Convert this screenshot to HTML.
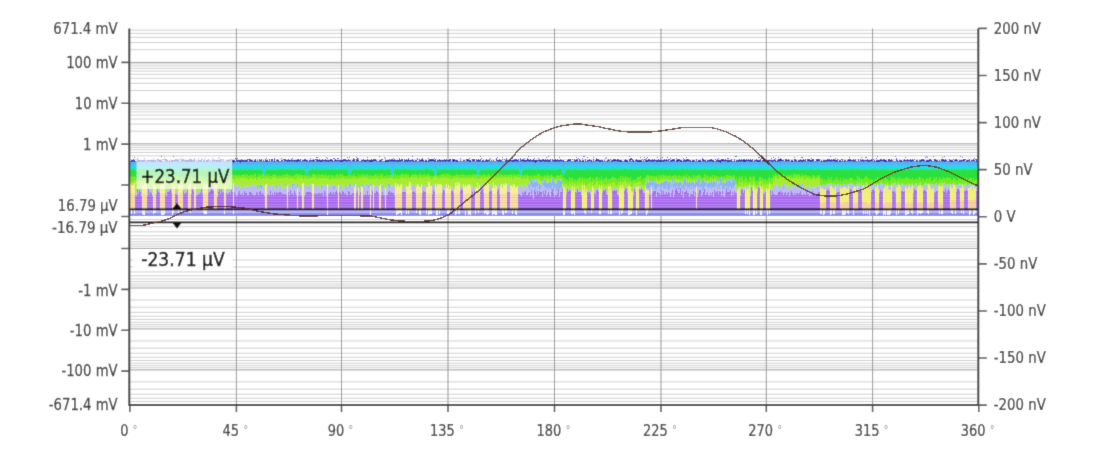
<!DOCTYPE html>
<html><head><meta charset="utf-8"><style>html,body{margin:0;padding:0;background:#fff;width:1117px;height:460px;overflow:hidden}svg{display:block}</style></head><body><svg width="1117" height="460" viewBox="0 0 1117 460" font-family="DejaVu Sans Condensed, DejaVu Sans, Liberation Sans, sans-serif" font-stretch="condensed"><defs><filter id="jb" x="0" y="0" width="1" height="1"><feConvolveMatrix order="3" kernelMatrix="0.0144 0.0912 0.0144 0.0912 0.5776 0.0912 0.0144 0.0912 0.0144" preserveAlpha="true" edgeMode="duplicate"/></filter></defs><g filter="url(#jb)"><rect width="1117" height="460" fill="#fff"/><path d="M130 49.69H977M130 42.49H977M130 37.38H977M130 33.41H977M130 30.17H977M130 90.59H977M130 83.39H977M130 78.28H977M130 74.31H977M130 71.07H977M130 68.34H977M130 65.96H977M130 63.87H977M130 131.21H977M130 124.08H977M130 119.02H977M130 115.09H977M130 111.88H977M130 109.17H977M130 106.82H977M130 104.75H977M130 172.20H977M130 164.94H977M130 159.80H977M130 155.80H977M130 152.54H977M130 149.78H977M130 147.39H977M130 145.29H977M130 213.19H977M130 205.99H977M130 200.88H977M130 196.91H977M130 193.67H977M130 190.94H977M130 188.56H977M130 186.47H977M130 260.02H977M130 266.99H977M130 271.94H977M130 275.78H977M130 278.91H977M130 281.57H977M130 283.86H977M130 285.89H977M130 300.01H977M130 307.21H977M130 312.32H977M130 316.29H977M130 319.53H977M130 322.26H977M130 324.64H977M130 326.73H977M130 340.94H977M130 348.16H977M130 353.28H977M130 357.26H977M130 360.50H977M130 363.25H977M130 365.63H977M130 367.72H977M130 381.91H977M130 389.11H977M130 394.22H977M130 398.19H977M130 401.43H977M130 219.51H977M130 226.71H977M130 231.82H977M130 235.79H977M130 239.03H977M130 241.76H977M130 244.14H977M130 246.23H977" stroke="#d0d0d0" stroke-width="1" fill="none"/><path d="M130 62.40H977M130 103.30H977M130 143.80H977M130 185.00H977M130 248.40H977M130 288.00H977M130 328.90H977M130 369.90H977" stroke="#a2a2a2" stroke-width="1" fill="none"/><path d="M236.40 28.4V405.1M341.50 28.4V405.1M448.00 28.4V405.1M554.50 28.4V405.1M661.00 28.4V405.1M766.30 28.4V405.1M872.60 28.4V405.1" stroke="#959595" stroke-width="1" fill="none"/><defs><pattern id="stp" patternUnits="userSpaceOnUse" x="0" y="193" width="8" height="2.5"><rect width="8" height="2.5" fill="#f8e6a4"/><rect y="1.4" width="8" height="1.1" fill="#f2c48c"/></pattern></defs>
<g shape-rendering="crispEdges">
<path d="M130 216.3V160.5H131V161H132V160.5H133H134V161H135V160.5H136H137H138H139V161H140V160.5H141H142V161H143V160.5H144H145H146H147V161H148V160.5H149H150H151H152H153H154H155V161H156V160.5H157H158H159H160H161H162H163H164H165V161H166H167V160.5H168H169H170H171V161H172V160.5H173H174H175H176H177V161H178H179H180V160.5H181H182V161H183H184V160.5H185H186H187H188H189H190H191H192H193V161H194V160.5H195H196V161H197H198V160.5H199H200H201H202V161H203V160.5H204H205V161H206V160.5H207H208H209V161H210V160.5H211H212H213H214H215H216H217H218V161H219V160.5H220V161H221V160.5H222H223H224H225H226H227H228H229H230H231H232H233V161H234H235V160.5H236H237H238H239H240H241V161H242V160.5H243H244H245H246V161H247H248V160.5H249H250H251H252H253H254H255V161H256H257V160.5H258V161H259V160.5H260H261H262V161H263V160.5H264H265V161H266V160.5H267V161H268V160.5H269H270V161H271V160.5H272H273H274H275H276H277V161H278V160.5H279H280H281V161H282V160.5H283H284V161H285V160.5H286H287H288H289V161H290V160.5H291H292H293H294V161H295V160.5H296H297H298H299V161H300V160.5H301H302V161H303H304V160.5H305H306H307H308H309H310H311H312H313H314H315H316H317V161H318V160.5H319V161H320H321V160.5H322H323H324H325V161H326H327V160.5H328H329H330H331V161H332H333H334V160.5H335V161H336H337H338V160.5H339H340H341H342V161H343H344V160.5H345V161H346H347V160.5H348H349V161H350V160.5H351H352V161H353V160.5H354V161H355V160.5H356H357H358V161H359V160.5H360H361H362H363H364H365H366V161H367V160.5H368V161H369V160.5H370H371V161H372V160.5H373H374V161H375V160.5H376H377H378V161H379H380V160.5H381H382H383H384H385H386H387H388H389H390V161H391V160.5H392H393H394H395V161H396V160.5H397V161H398V160.5H399H400H401H402V161H403V160.5H404V161H405V160.5H406H407H408H409H410H411V161H412V160.5H413H414H415V161H416V160.5H417H418H419H420H421H422H423H424H425H426H427V161H428H429V160.5H430H431H432H433H434V161H435V160.5H436V161H437V160.5H438H439V161H440H441V160.5H442H443H444H445V161H446V160.5H447H448H449H450H451H452V161H453H454V160.5H455H456H457V161H458H459H460V160.5H461V161H462V160.5H463H464H465H466H467V161H468V160.5H469H470H471V161H472H473V160.5H474H475H476H477H478H479V161H480V160.5H481H482H483H484H485H486V161H487H488V160.5H489H490V161H491V160.5H492V161H493H494H495H496V160.5H497H498H499H500V161H501V160.5H502H503H504H505V161H506V160.5H507V161H508V160.5H509H510V161H511V160.5H512H513H514H515H516H517H518H519H520H521H522H523H524H525H526H527H528H529H530V161H531V160.5H532H533H534H535V161H536V160.5H537H538H539H540H541H542H543H544H545H546H547H548H549H550H551V161H552H553V160.5H554V161H555H556V160.5H557H558H559H560H561H562H563V161H564V160.5H565H566V161H567H568V160.5H569H570V161H571V160.5H572V161H573H574H575V160.5H576V161H577V160.5H578H579V161H580V160.5H581H582V161H583V160.5H584H585H586H587V161H588H589V160.5H590H591H592H593H594V161H595V160.5H596H597H598H599H600V161H601V160.5H602H603H604H605H606V161H607V160.5H608H609H610H611V161H612V160.5H613H614V161H615V160.5H616V161H617V160.5H618H619V161H620V160.5H621H622H623H624H625H626V161H627V160.5H628V161H629V160.5H630H631V161H632V160.5H633H634H635H636H637V161H638V160.5H639V161H640V160.5H641H642H643H644V161H645V160.5H646H647V161H648V160.5H649V161H650V160.5H651H652H653H654H655H656V161H657V160.5H658H659H660V161H661H662V160.5H663H664V161H665H666V160.5H667H668V161H669V160.5H670H671V161H672V160.5H673V161H674V160.5H675V161H676H677V160.5H678H679H680H681H682H683H684V161H685H686V160.5H687H688V161H689H690V160.5H691H692H693H694H695H696V161H697H698V160.5H699V161H700V160.5H701H702H703V161H704H705V160.5H706H707H708H709H710H711H712H713V161H714V160.5H715H716H717H718H719H720H721H722H723H724H725V161H726H727V160.5H728V161H729H730H731V160.5H732V161H733V160.5H734H735H736V161H737V160.5H738V161H739V160.5H740H741H742V161H743H744H745H746V160.5H747H748V161H749V160.5H750H751V161H752V160.5H753H754V161H755V160.5H756H757H758V161H759H760V160.5H761H762H763H764H765H766H767H768H769H770H771V161H772V160.5H773H774H775H776H777H778H779H780H781V161H782V160.5H783V161H784V160.5H785H786H787H788H789H790H791H792H793H794H795H796H797V161H798V160.5H799H800H801H802H803H804H805H806V161H807V160.5H808H809H810V161H811V160.5H812H813H814H815H816H817V161H818H819V160.5H820V161H821V160.5H822V161H823H824V160.5H825H826H827V161H828V160.5H829H830H831V161H832H833V160.5H834H835V161H836V160.5H837H838V161H839V160.5H840H841V161H842V160.5H843H844H845H846H847V161H848V160.5H849H850V161H851V160.5H852H853H854V161H855V160.5H856H857H858H859H860H861V161H862V160.5H863V161H864H865H866V160.5H867V161H868V160.5H869H870H871H872H873H874H875H876H877H878H879V161H880V160.5H881H882H883H884H885H886H887H888H889H890H891H892V161H893V160.5H894V161H895H896V160.5H897V161H898V160.5H899H900H901H902H903H904H905H906H907H908H909H910H911H912H913H914H915V161H916V160.5H917H918H919V161H920V160.5H921H922H923H924H925H926H927H928H929H930H931V161H932V160.5H933H934H935H936H937V161H938H939V160.5H940V161H941V160.5H942H943H944H945H946H947V161H948H949H950V160.5H951H952V161H953V160.5H954H955H956H957H958H959H960H961V161H962H963H964V160.5H965H966H967H968V161H969V160.5H970V161H971V160.5H972H973V161H974V160.5H975H976H977H978V216.3Z" fill="#4a8cf0"/>
<path d="M130 216.3V162H131H132H133V161.5H134H135H136H137H138V162H139H140H141H142V161.5H143H144V162H145V161.5H146V162H147V161.5H148H149V162H150H151V161.5H152V162H153V161.5H154H155V162H156V161.5H157V161H158V161.5H159V161H160V162H161V161.5H162V161H163V161.5H164H165H166V161H167V162H168V161.5H169H170V162H171V161H172V161.5H173V162H174V161.5H175H176V161H177V161.5H178V162H179V161.5H180H181H182H183V162H184V161H185V161.5H186H187H188H189H190V161H191H192V161.5H193V162H194V161.5H195V162H196V161H197V162H198H199V161.5H200H201H202V162H203H204V161.5H205H206H207H208H209V162H210V161.5H211H212H213V162H214V161H215V161.5H216V162H217H218H219V161.5H220H221V162H222V161.5H223V162H224V161H225V162H226V161H227V161.5H228H229V161H230V161.5H231V162H232V161.5H233V162H234V161H235V162H236H237V161.5H238H239H240H241H242H243V162H244H245H246H247H248V161.5H249H250V162H251V161.5H252H253H254V161H255H256V161.5H257V162H258V161H259V162H260V161.5H261H262V162H263V161.5H264H265H266H267H268V162H269H270V161.5H271H272V162H273V161.5H274V161H275V161.5H276V161H277V161.5H278V162H279V161.5H280H281V162H282H283H284H285V161H286V161.5H287V162H288V161.5H289V162H290V161.5H291H292V162H293V161.5H294H295H296H297V161H298V161.5H299V162H300H301V161.5H302V162H303H304V161.5H305V161H306H307V161.5H308H309H310H311H312V162H313H314V161H315V161.5H316V162H317H318V161H319V162H320H321V161.5H322V162H323V161.5H324H325V162H326H327V161.5H328V161H329V162H330H331V161.5H332V162H333H334V161.5H335H336H337H338V162H339H340V161.5H341V161H342V161.5H343H344V161H345H346V161.5H347V162H348V161H349V162H350H351V161.5H352V162H353V161.5H354H355H356H357H358V162H359V161.5H360H361V162H362V161.5H363V161H364V162H365V161.5H366V162H367H368H369H370V161.5H371H372V161H373H374H375H376V162H377H378V161.5H379H380H381H382V162H383V161.5H384H385H386V161H387V161.5H388V161H389H390V162H391H392V161.5H393V162H394V161.5H395V162H396H397V161.5H398V162H399H400H401V161H402V162H403V161.5H404H405V161H406V161.5H407V161H408V161.5H409V162H410H411V161H412V161.5H413V162H414V161.5H415H416H417H418H419V162H420V161.5H421V162H422V161.5H423H424H425V161H426V162H427V161.5H428V162H429V161.5H430H431H432V161H433V161.5H434V162H435V161.5H436V162H437V161.5H438H439H440V162H441V161H442V161.5H443H444H445V162H446H447V161H448V162H449V161.5H450H451H452H453V162H454V161.5H455H456H457V162H458V161.5H459V161H460V161.5H461H462V162H463V161.5H464V162H465H466V161H467V161.5H468V162H469V161.5H470V161H471V161.5H472V162H473H474H475V161.5H476H477V161H478V162H479V161.5H480H481V162H482V161H483V162H484H485H486V161.5H487V161H488V162H489H490V161.5H491H492V162H493V161.5H494V162H495H496V161H497V161.5H498V162H499H500V161H501V162H502V161.5H503H504V161H505V161.5H506H507H508V161H509V161.5H510V162H511V161.5H512V161H513V161.5H514H515H516H517V162H518H519V161.5H520V162H521V161.5H522V162H523H524V161.5H525V162H526V161.5H527V162H528V161.5H529H530H531H532V162H533V161.5H534V161H535V162H536V161.5H537V162H538V161H539V161.5H540V162H541H542V161H543V162H544H545V161.5H546V162H547V161.5H548H549H550H551V161H552V161.5H553H554V162H555H556H557H558V161.5H559H560H561H562H563H564H565V162H566V161.5H567V162H568V161.5H569V162H570V161.5H571H572V162H573V161.5H574H575V162H576V161.5H577V162H578H579H580H581H582H583V161.5H584V161H585V162H586H587H588V161.5H589V161H590V161.5H591V161H592V162H593V161.5H594V162H595V161.5H596V162H597V161H598V161.5H599H600V161H601V162H602V161.5H603H604H605H606V162H607V161.5H608V161H609V162H610V161.5H611V162H612H613V161.5H614H615H616H617H618H619V162H620H621H622H623V161.5H624V162H625H626V161H627H628H629V161.5H630H631V162H632H633H634H635V161.5H636H637V161H638V161.5H639V162H640V161H641V161.5H642V161H643V161.5H644V162H645V161.5H646V162H647V161H648V162H649H650H651V161H652V161.5H653H654H655V161H656V162H657V161H658V162H659V161.5H660V161H661V161.5H662H663H664H665V162H666H667V161H668V162H669V161.5H670H671V161H672V161.5H673V162H674V161.5H675V161H676V161.5H677V162H678H679V161H680V162H681H682V161.5H683H684V162H685V161.5H686H687V162H688H689V161.5H690H691H692V162H693V161.5H694H695V162H696V161.5H697H698H699H700H701V162H702H703V161.5H704V162H705H706V161.5H707H708H709V162H710V161.5H711V162H712H713V161.5H714H715V162H716H717H718V161.5H719V162H720H721H722H723V161.5H724V162H725H726H727V161.5H728H729V162H730V161.5H731H732H733H734H735H736H737H738V162H739V161.5H740V162H741V161.5H742V162H743V161H744V162H745H746H747V161H748V162H749H750V161.5H751H752H753V162H754V161.5H755H756H757V161H758V161.5H759V162H760H761V161.5H762H763H764H765H766V161H767H768V161.5H769V162H770V161.5H771H772H773H774V161H775V161.5H776V162H777V161.5H778H779V162H780H781V161H782V161.5H783V161H784V161.5H785H786V162H787V161.5H788H789V161H790V161.5H791H792H793V162H794V161.5H795V162H796V161.5H797V161H798V161.5H799V162H800V161.5H801V162H802V161.5H803H804V162H805V161.5H806V162H807H808V161.5H809H810V162H811V161.5H812H813H814V162H815V161.5H816H817V162H818V161H819V162H820H821H822V161.5H823V161H824H825V162H826H827V161.5H828V162H829V161.5H830V161H831V161.5H832H833H834H835V162H836H837V161.5H838V162H839H840V161H841V161.5H842H843V162H844V161.5H845H846H847V162H848V161.5H849H850V162H851H852H853V161.5H854V162H855V161.5H856H857V162H858V161.5H859H860H861V162H862V161.5H863V162H864V161H865V162H866H867H868V161.5H869V162H870V161.5H871H872V162H873H874V161.5H875H876H877H878V162H879V161H880V161.5H881V161H882V161.5H883V162H884V161.5H885V162H886V161H887V161.5H888V162H889H890H891V161.5H892V162H893H894H895V161.5H896V161H897H898V162H899H900H901V161H902V162H903V161.5H904H905H906V162H907H908V161.5H909V162H910V161.5H911H912V162H913V161.5H914H915V161H916V162H917V161.5H918V162H919V161.5H920H921V162H922V161H923V161.5H924V162H925H926V161.5H927H928V162H929V161.5H930V161H931V161.5H932V161H933V161.5H934H935V162H936V161.5H937H938H939V162H940V161.5H941V162H942H943H944H945H946H947V161.5H948H949H950H951H952V162H953H954V161.5H955V161H956V162H957V161H958V162H959V161H960V162H961H962V161H963V162H964V161H965V162H966V161.5H967H968H969H970H971V162H972H973V161H974V161.5H975V162H976V161.5H977H978V216.3Z" fill="#56b2f4"/>
<path d="M130 216.3V164.5H131H132V165H133V164.5H134V165H135V164.5H136V165H137V164.5H138V165H139V164.5H140V164H141V164.5H142V165H143H144H145V164.5H146H147H148V164H149V164.5H150V164H151V165H152V164.5H153V165.5H154V164.5H155V165H156V164.5H157H158H159V165H160V164.5H161H162V165.5H163V164.5H164V165H165V164H166V164.5H167V165H168H169V164.5H170H171V165.5H172V164.5H173V165H174H175V165.5H176V164H177V164.5H178V165H179V164.5H180V165H181V165.5H182V165H183V164.5H184V165H185H186V164.5H187H188V165.5H189V165H190V164.5H191V165.5H192V164.5H193V164H194V165H195H196H197V164.5H198H199H200V165H201V164.5H202H203V165H204V164.5H205V165H206V164.5H207H208V165H209V164.5H210H211V165H212V164.5H213V165H214H215V164.5H216V164H217V164.5H218V165H219V164.5H220V165H221H222V164.5H223V165.5H224H225V164.5H226V165H227V164.5H228H229H230V165.5H231V164.5H232V165H233V164.5H234V165H235V164.5H236V165.5H237V165H238H239H240H241H242H243V164H244V165.5H245H246V164.5H247V165H248V164.5H249H250V165H251H252V164.5H253V165H254H255H256H257V165.5H258V164H259H260V165.5H261V164.5H262V165H263V164.5H264V165H265H266H267V164.5H268V165H269H270V164.5H271H272H273V164H274V164.5H275V165H276H277V164.5H278V165H279V164.5H280H281V164H282V165.5H283V165H284V164.5H285V165.5H286V164.5H287V165H288V164.5H289H290V165.5H291V164.5H292V165H293V164.5H294H295H296V165H297V164.5H298H299H300H301V165H302H303V164.5H304V165H305V164.5H306V165H307V165.5H308H309V164.5H310H311V165H312V164.5H313V165.5H314V164.5H315V165H316H317H318H319V164.5H320H321V165H322H323V164.5H324V165H325V164.5H326V165H327V164.5H328H329V165H330V164.5H331H332V165.5H333V164.5H334H335V165.5H336V164.5H337H338V165H339V164.5H340V165H341H342V165.5H343V164.5H344H345V165H346H347H348H349V164H350V165H351V165.5H352H353V164.5H354H355H356V165H357H358H359V164.5H360H361V165H362H363V164.5H364H365V165.5H366V165H367H368V164.5H369H370H371H372H373V165H374V164.5H375V165H376V164.5H377V165H378H379H380V164.5H381V165H382H383V164.5H384H385V165H386H387H388V164.5H389H390V165H391H392V165.5H393V165H394V165.5H395V165H396H397V164.5H398H399V165H400H401H402V164.5H403H404V165H405H406V165.5H407V165H408V164.5H409H410V165H411H412H413H414H415V164.5H416H417V164H418V165H419V164.5H420V165H421V165.5H422V164.5H423H424V165H425V165.5H426V165H427H428V164H429V164.5H430V165.5H431V164.5H432H433H434H435H436V165H437H438H439H440V165.5H441V164.5H442H443H444H445V165H446V165.5H447V164.5H448V165H449H450H451V165.5H452V164.5H453V165H454V164.5H455H456V165H457V164.5H458V165H459V164.5H460V165H461V164.5H462H463H464V165H465V165.5H466V165H467V164.5H468V165H469H470V164.5H471V165H472H473H474V164.5H475V165H476H477V165.5H478V165H479V164.5H480H481V165H482H483H484H485H486H487V164.5H488H489V165H490V164.5H491V165H492H493V164.5H494H495V165H496V164H497V164.5H498V165H499H500V165.5H501V164.5H502H503V165H504V164.5H505V165.5H506V164.5H507V165H508V164.5H509V165.5H510V165H511H512V164.5H513V164H514V165H515V164.5H516H517V164H518V165H519V164.5H520V165H521H522H523H524V164.5H525V165H526H527V164.5H528V164H529V164.5H530V165.5H531V165H532H533V165.5H534H535H536V165H537V164.5H538H539H540V165H541V164.5H542H543H544H545V165H546V164.5H547V165H548H549H550V164.5H551H552H553V165H554V164.5H555H556V165H557V164.5H558V165H559H560V164.5H561V165H562V164.5H563V165H564H565H566H567V165.5H568V165H569V164.5H570V164H571V164.5H572V165H573V164.5H574V165H575H576V164.5H577V165H578V164.5H579V165H580V164.5H581H582V165H583V164.5H584H585V165H586H587H588V164.5H589H590V165.5H591V164.5H592V165H593H594V164.5H595H596V165H597H598V164.5H599V165H600H601V164.5H602V165H603V164.5H604H605H606H607V164H608V165H609V164.5H610H611V164H612V165H613V164.5H614V165H615V164.5H616V165H617H618V164H619V165H620H621V165.5H622V164.5H623V165H624V164.5H625H626H627V165H628V165.5H629V165H630H631V164H632V164.5H633V165H634V164.5H635V165.5H636V164.5H637H638V165H639V164.5H640H641V165H642V165.5H643V164.5H644V165H645H646V164.5H647V165H648H649H650V164H651H652V164.5H653V165H654H655V164.5H656V165H657V165.5H658H659V164.5H660H661V165H662H663V164.5H664V165H665H666V164.5H667V165H668H669H670H671H672V164.5H673H674H675V165H676V164H677V165H678V164.5H679H680V165H681H682V164.5H683H684H685V165H686H687V164.5H688H689H690H691H692V165H693H694H695H696V164.5H697V164H698V165H699V164.5H700H701V165H702H703H704H705H706V164.5H707V165H708V164.5H709V165H710H711H712V164.5H713V165H714H715V164.5H716V165H717H718V164.5H719V165H720H721H722H723H724H725H726H727V164.5H728H729V164H730V164.5H731V165H732H733V165.5H734V165H735V164.5H736V165H737V165.5H738V164.5H739H740V165.5H741V164.5H742H743V165H744H745H746H747V164.5H748V165.5H749V165H750V165.5H751H752V164.5H753H754V165H755V164H756V165H757H758V164.5H759V165.5H760V165H761V164.5H762V165.5H763V165H764V164H765V164.5H766V165H767H768V164.5H769V165H770V164.5H771V165H772H773V164.5H774H775V165H776V164.5H777H778V165H779V164.5H780V165.5H781V164.5H782H783H784V165.5H785V164.5H786V165H787V164.5H788V165.5H789V165H790H791H792H793V164.5H794V165H795H796H797H798V164.5H799H800H801V165H802V164.5H803V165.5H804V165H805H806V164.5H807H808H809V164H810V165H811V164.5H812V165H813H814V165.5H815V164.5H816H817V165.5H818V165H819H820V164.5H821V165H822H823H824H825V164.5H826H827H828V165H829V164.5H830V165.5H831V165H832V164.5H833V165H834V164.5H835H836V165H837H838V164.5H839V165H840H841H842V164H843V164.5H844H845H846V165H847H848V164H849V164.5H850V165H851H852V165.5H853V164.5H854H855H856H857V165H858H859V164.5H860H861V165H862V164.5H863H864H865H866V165H867H868V164.5H869V165H870H871V164.5H872H873V165.5H874V164.5H875V165H876V165.5H877H878V165H879V164.5H880V165.5H881H882V165H883V164.5H884V164H885V165H886V164.5H887V165H888H889H890H891V164.5H892V165.5H893V165H894H895V164.5H896V165H897H898V164.5H899V165H900V164.5H901V165H902H903H904V164.5H905H906H907V165H908V165.5H909V164.5H910V165H911V164.5H912H913H914V165H915V164H916V164.5H917V165H918V164.5H919V165H920V164.5H921H922H923H924V165H925H926V164.5H927H928V165H929H930H931V164.5H932H933H934V165H935V164.5H936H937V165H938V164.5H939V165H940V164.5H941V165H942V164.5H943V165H944H945V164.5H946V165.5H947V164.5H948V165H949H950V165.5H951V164.5H952V165H953H954V165.5H955V165H956V164.5H957V165H958V164.5H959H960V165H961H962V164.5H963H964H965V165H966H967V164.5H968V165.5H969H970V165H971H972V164.5H973V165.5H974H975V165H976V164.5H977V165H978V216.3Z" fill="#2ad4ec"/>
<path d="M130 216.3V167H131V167.5H132H133H134H135V167H136V167.5H137V168H138V167.5H139V167H140V167.5H141V166.5H142V167H143V167.5H144H145V166.5H146V167H147V167.5H148V167H149V167.5H150H151H152H153H154H155H156V167H157H158H159V168H160V167H161H162V168H163V167H164H165H166V167.5H167H168V167H169V167.5H170H171V167H172H173H174H175V167.5H176V167H177H178H179V167.5H180V167H181V167.5H182V167H183V167.5H184V166.5H185V167H186V166.5H187V167H188H189H190H191V168H192H193V167.5H194V167H195V167.5H196V167H197V168H198V167.5H199H200V168H201V167.5H202V167H203V167.5H204V167H205V168H206V167H207V167.5H208V167H209H210V167.5H211V167H212V167.5H213V166.5H214V167H215V168H216V167.5H217V167H218V167.5H219V167H220H221V168H222V166.5H223V168H224V167.5H225H226V167H227H228H229V167.5H230V168H231H232V167.5H233V167H234V167.5H235V168H236V167H237H238V167.5H239H240H241H242H243V167H244V167.5H245V167H246V167.5H247V167H248H249H250H251H252V168H253V167H254V167.5H255H256H257V167H258H259V167.5H260V167H261V167.5H262H263H264V168H265V166.5H266V167H267V167.5H268V168H269V167H270H271V167.5H272H273H274H275H276V167H277V167.5H278V166.5H279V167H280H281H282V167.5H283V168H284V167.5H285H286H287V167H288V166.5H289V167.5H290V168H291V167.5H292H293V167H294H295H296H297V167.5H298H299V167H300H301V167.5H302V168H303V167H304V167.5H305V168H306V167H307V167.5H308V167H309H310H311H312V167.5H313H314V167H315V167.5H316V167H317V168H318V167H319V167.5H320V166.5H321V167H322H323H324H325H326V167.5H327V167H328V167.5H329H330H331V167H332V168H333V167H334H335H336H337H338H339V167.5H340V167H341H342V167.5H343V167H344V167.5H345V168H346V167H347H348V167.5H349V167H350V167.5H351H352V167H353V167.5H354V167H355H356V167.5H357V167H358V167.5H359V167H360V167.5H361V168H362V167H363V168H364V167H365V167.5H366V168H367V167.5H368V167H369V167.5H370H371V166.5H372V167H373V167.5H374V167H375V167.5H376V168H377V167H378V167.5H379V168H380V167H381H382V166.5H383V167.5H384H385H386H387H388H389V167H390H391V167.5H392H393V167H394V167.5H395H396H397V167H398H399V168H400V167H401H402V167.5H403V167H404H405V168H406V167H407H408H409V166.5H410V167H411H412H413V168H414V167H415V167.5H416H417V167H418H419V167.5H420V167H421H422V167.5H423V167H424V167.5H425H426H427V167H428H429H430H431H432V168H433V167.5H434V167H435H436V167.5H437H438V168H439V167.5H440H441V167H442H443V167.5H444V167H445V168H446V167.5H447V167H448H449V167.5H450V167H451H452V168H453V167H454H455H456H457H458V168H459H460V167H461H462H463H464V167.5H465H466V168H467H468V167.5H469V167H470V166.5H471V167.5H472V167H473H474H475H476H477V167.5H478V167H479V167.5H480V168H481V167.5H482V167H483V167.5H484H485V167H486H487H488H489V166.5H490V167.5H491V167H492V167.5H493V167H494H495V167.5H496H497H498V167H499H500H501H502V167.5H503H504H505V166.5H506V167H507V167.5H508H509V168H510V167H511V167.5H512V167H513H514V167.5H515V167H516V167.5H517H518V167H519V167.5H520V167H521V167.5H522V168H523V167.5H524V168H525V167H526V167.5H527H528V167H529V168H530V167.5H531V168H532V167.5H533H534V167H535V167.5H536H537V167H538H539V167.5H540H541H542V168H543V167H544V167.5H545H546H547H548V167H549V167.5H550V167H551V167.5H552H553H554V168H555V167H556V167.5H557H558V167H559V167.5H560V167H561H562H563V166.5H564V167.5H565V168H566V167H567V167.5H568V166.5H569V167H570V167.5H571H572H573H574H575V167H576V168H577V167H578H579V168H580V167.5H581H582H583H584V167H585H586V168H587H588V167H589V167.5H590V168H591V167H592H593H594V167.5H595V167H596H597V167.5H598V167H599H600H601V167.5H602V168H603V167H604H605V168H606V167H607V167.5H608V167H609V168H610V167.5H611V167H612V167.5H613H614H615H616H617V167H618H619H620H621H622V167.5H623H624V167H625V168H626H627V167H628V167.5H629V166.5H630V168H631V167.5H632H633H634V168H635V167.5H636V167H637H638V167.5H639H640V168H641V167H642V167.5H643V168H644V167H645V168H646V167.5H647V167H648V167.5H649V167H650V167.5H651V167H652V167.5H653V166.5H654V167H655V167.5H656H657V167H658H659H660V167.5H661V167H662V167.5H663V168H664V167H665V167.5H666V167H667H668H669H670V167.5H671H672V168H673V167.5H674V168H675V167.5H676H677H678H679V167H680H681H682H683V168H684V167.5H685V168H686V167.5H687V167H688H689V167.5H690H691V167H692V167.5H693V166.5H694V167.5H695H696V168H697H698V167.5H699H700V167H701V167.5H702H703H704H705H706V167H707H708V168H709V167H710H711V167.5H712V167H713V168H714V167.5H715H716V168H717H718V166.5H719H720V167.5H721V166.5H722V167H723H724V167.5H725V167H726V168H727V166.5H728V167.5H729V167H730H731H732H733H734H735H736V167.5H737H738V167H739V168H740V167H741V167.5H742V167H743V167.5H744H745V166.5H746V167H747V167.5H748H749V168H750V167H751H752V167.5H753H754H755V168H756V167.5H757V166.5H758V167H759V167.5H760V167H761V167.5H762H763H764V167H765H766H767V167.5H768H769V167H770H771H772V167.5H773V167H774H775V168H776V167.5H777V167H778V167.5H779V167H780V168H781V167H782V167.5H783V166.5H784V167.5H785V167H786H787V166.5H788V168H789H790V167.5H791V167H792V167.5H793V166.5H794V167H795H796V167.5H797V167H798V167.5H799H800V167H801V167.5H802V167H803H804H805V167.5H806V166.5H807V167.5H808H809V167H810V167.5H811V167H812V168H813V167H814V167.5H815V167H816V168H817V167H818V168H819V167.5H820H821V168H822V167.5H823H824H825V167H826H827V167.5H828H829V167H830V168H831V167.5H832V168H833V167H834H835V167.5H836H837H838V167H839H840V167.5H841V167H842V167.5H843H844V168H845V167H846V166.5H847V167H848V166.5H849V167.5H850V167H851V167.5H852V168H853V167.5H854H855H856V166.5H857V167H858V168H859V167H860V167.5H861H862V167H863V167.5H864V168H865V167.5H866H867H868V167H869V167.5H870V167H871V167.5H872V167H873H874H875H876V168H877H878H879V167H880V167.5H881V167H882V167.5H883H884H885H886H887H888H889V167H890H891H892V167.5H893V168H894V167H895V167.5H896V167H897V167.5H898V168H899H900V167.5H901H902H903H904H905V168H906H907V167H908H909V167.5H910V168H911V167.5H912H913H914V167H915V167.5H916V167H917V167.5H918V166.5H919V167H920H921V167.5H922H923H924H925H926V166.5H927V167.5H928H929H930V167H931H932H933H934V167.5H935V168H936V167H937V167.5H938H939H940H941V168H942V167.5H943V167H944H945V167.5H946V167H947V167.5H948H949V167H950V167.5H951V167H952V167.5H953V166.5H954V167.5H955H956V167H957H958H959V167.5H960V167H961V167.5H962H963H964H965H966H967V168H968V167H969H970H971H972H973V167.5H974H975H976V167H977H978V216.3Z" fill="#22e2bc"/>
<path d="M130 216.3V169H131V169.5H132V169H133H134V169.5H135H136H137V169H138H139H140V168.5H141V169H142V169.5H143V168.5H144V169H145H146V168.5H147V169H148H149H150V169.5H151V168.5H152H153V169H154H155V168.5H156H157V169H158H159V169.5H160V169H161V168.5H162V169.5H163V168.5H164H165V169H166H167H168V169.5H169V168.5H170V169H171H172H173H174H175H176H177H178H179V169.5H180V169H181H182V169.5H183H184V169H185V168.5H186V169.5H187V168.5H188V169H189H190H191V168.5H192V169H193V169.5H194H195V169H196V168.5H197V169.5H198V168.5H199H200V169H201V169.5H202V169H203V169.5H204H205V169H206H207V168.5H208H209H210H211V169H212H213H214V169.5H215V168.5H216V169H217V169.5H218H219V168.5H220V169H221H222V169.5H223V168.5H224V169H225H226V169.5H227V169H228V169.5H229H230V169H231V169.5H232H233V169H234V169.5H235H236H237H238H239H240V169H241V169.5H242V170H243V169.5H244H245V169H246V170H247V169.5H248H249V169H250V170H251V169H252V170H253H254V169.5H255V170H256V169.5H257V170H258V169.5H259V169H260V170H261H262V169.5H263V170H264V169.5H265H266H267H268H269H270V170H271V169.5H272H273H274H275V170H276V169.5H277H278V169H279V169.5H280H281V169H282H283H284V169.5H285H286H287V169H288V169.5H289V169H290H291V169.5H292V170H293V169.5H294H295V170H296V169.5H297V170H298V169H299H300V169.5H301H302H303H304H305V170H306H307H308H309H310H311V169.5H312V169H313V169.5H314H315H316V169H317V169.5H318H319H320V170H321V169.5H322V169H323V169.5H324V170H325V169H326V170H327V169H328H329V169.5H330H331V169H332V169.5H333V169H334V169.5H335V169H336V169.5H337H338H339H340V169H341H342V170H343V169H344H345V169.5H346V169H347V169.5H348H349V170H350V169.5H351H352H353V170H354V169.5H355V169H356V170H357V169.5H358H359H360V169H361H362V169.5H363V169H364V169.5H365V170H366V169.5H367V170H368H369V169H370V169.5H371V170H372V169.5H373H374H375H376H377H378V169H379V170H380V169H381V169.5H382V169H383V170H384V169.5H385H386V170H387V169.5H388V169H389H390V169.5H391H392H393V169H394H395H396V170H397V169H398V169.5H399V170H400H401V169H402V169.5H403V169H404H405H406H407V169.5H408H409H410H411H412H413V170H414H415H416V169.5H417V170H418V169.5H419H420V170H421V169.5H422V170H423V169.5H424V170H425V169H426H427H428H429V170H430V169.5H431V170H432H433H434V169.5H435H436H437H438V169H439V170H440V169.5H441H442V169H443V169.5H444V169H445V169.5H446V169H447V169.5H448H449H450H451V169H452H453V169.5H454V169H455V169.5H456V170H457V169.5H458V169H459V170H460V169.5H461V169H462V170H463H464V169H465V170H466V169.5H467H468V169H469V169.5H470H471H472V169H473V169.5H474V170H475V169.5H476H477H478V170H479V169.5H480V170H481H482V169.5H483H484H485H486H487H488H489V169H490V169.5H491H492H493H494H495V170H496V169H497V169.5H498H499V169H500V170H501V169.5H502V170H503V169H504V170H505V169.5H506H507V170H508H509V169.5H510V169H511V169.5H512H513V169H514V169.5H515V169H516V170H517H518H519V169H520H521V169.5H522H523V170H524V169.5H525V169H526H527V169.5H528V170H529V169H530H531H532V169.5H533V170H534V169H535V170H536V169.5H537V169H538H539V169.5H540H541V169H542V169.5H543V169H544V170H545V169.5H546H547H548V170H549V169.5H550H551H552H553H554H555H556H557V170H558V169H559H560H561V170H562V169H563V169.5H564V169H565V170H566V169H567V169.5H568V169H569H570V170H571V169.5H572H573H574H575V169H576V169.5H577V170H578V169.5H579H580V170H581H582V169.5H583H584V170H585V169.5H586V170H587V169H588H589V169.5H590H591V170H592H593H594V169.5H595V169H596H597V170H598V169H599V170H600V169.5H601H602V170H603V169.5H604V170H605V169.5H606V169H607V170H608V169.5H609H610V170H611V169.5H612V169H613V170H614V169.5H615V169H616V170H617V169.5H618V170H619V169.5H620H621V169H622V169.5H623V169H624H625H626H627V169.5H628V170H629V169H630V169.5H631V169H632H633V170H634V169.5H635H636H637V170H638V169.5H639V170H640V169.5H641V170H642V169H643V170H644V169.5H645V170H646V169H647V169.5H648V170H649V169.5H650V170H651V169.5H652H653V170H654H655V169H656V169.5H657V170H658H659V169.5H660V169H661H662V169.5H663H664V170H665V169H666V170H667V169.5H668V169H669H670V169.5H671H672H673H674H675H676V169H677V169.5H678V170H679H680V169.5H681V169H682H683H684V169.5H685V170H686V169H687H688V169.5H689H690V169H691V170H692V169.5H693V170H694V169.5H695V169H696V170H697H698H699H700V169H701V169.5H702H703H704V169H705V170H706H707V169H708V169.5H709H710H711V169H712V169.5H713H714V169H715V169.5H716V169H717V170H718V169.5H719V170H720H721H722V169.5H723V169H724V169.5H725V170H726V169H727V169.5H728V170H729V169H730H731H732V170H733V169H734V170H735V169.5H736H737H738V170H739V169H740H741V169.5H742V169H743V169.5H744H745H746H747V169H748V170H749V169.5H750H751V169H752V169.5H753H754H755V170H756V169.5H757V169H758V170H759V169H760V170H761V169.5H762V170H763V169.5H764H765V170H766H767H768H769V169.5H770H771V170H772V169.5H773V169H774V169.5H775V169H776V169.5H777V170H778H779V169.5H780V169H781V169.5H782V169H783V169.5H784V170H785V169.5H786H787H788V169H789V169.5H790V170H791H792H793V169H794V170H795V169.5H796V170H797V169H798V169.5H799H800H801H802H803H804V169H805V169.5H806V170H807V169.5H808H809V170H810V169H811H812V169.5H813H814H815H816H817V169H818H819V169.5H820H821H822H823H824H825H826H827H828V170H829H830V169.5H831V170H832H833V169H834V170H835V169.5H836V169H837V169.5H838V169H839V169.5H840V170H841H842V169H843V170H844V169.5H845H846V169H847V169.5H848H849H850V170H851H852V169H853H854V169.5H855H856V169H857V169.5H858V169H859V169.5H860V170H861V169.5H862H863V170H864V169.5H865V169H866V169.5H867H868H869H870V170H871V169H872H873V169.5H874V169H875V170H876H877V169.5H878H879H880H881V169H882V169.5H883H884V170H885V169H886V169.5H887V170H888H889V169.5H890H891H892H893H894H895H896V169H897H898V170H899H900V169H901V170H902H903V169.5H904V169H905V169.5H906H907V169H908V169.5H909V169H910H911H912V169.5H913V170H914V169.5H915H916H917H918H919H920H921V169H922H923V169.5H924V169H925V169.5H926V170H927V169.5H928H929V170H930V169H931V169.5H932V169H933V170H934V169H935V169.5H936V169H937V170H938V169.5H939V170H940H941V169.5H942H943V169H944V170H945V169H946V170H947V169H948H949V169.5H950H951V169H952V169.5H953V169H954V170H955H956V169H957V170H958H959H960V169.5H961H962V169H963H964V169.5H965H966H967V170H968V169.5H969V169H970V170H971V169.5H972H973V169H974H975H976V170H977H978V216.3Z" fill="#2ce03e"/>
<path d="M130 216.3V175.5H131V177H132H133V176H134V176.5H135H136V177.5H137V175H138V177.5H139V177H140V177.5H141V178.5H142V177.5H143V175.5H144H145V178H146V178.5H147V177H148V175.5H149V177.5H150V177H151V176H152V174.5H153V177H154V176H155V178H156V175H157V176.5H158V178H159V177.5H160V175H161V177H162V177.5H163V175.5H164V176H165V176.5H166V178H167V176H168V177.5H169V177H170V177.5H171V177H172H173V176H174H175V175H176V176H177H178V175.5H179V176.5H180V178H181V176H182V176.5H183V177.5H184V176.5H185V175.5H186V176.5H187H188V176H189V177.5H190V176H191V175.5H192V178H193V176.5H194V178H195V177H196H197V176.5H198V177.5H199V175H200V176H201V176.5H202V176H203V177H204V177.5H205H206V176.5H207V175.5H208V176.5H209V177H210V176H211V175.5H212V178H213V176.5H214V176H215H216V175.5H217V178H218V176H219V177.5H220V176.5H221V178.5H222V176H223V178.5H224H225V176H226V177.5H227V175.5H228V178H229V176H230V175.5H231H232V174.5H233V174H234V175.5H235V174.5H236H237V175.5H238V175H239V174.5H240V175.5H241V174.5H242V175H243H244V174H245V176H246V174H247V174.5H248V175.5H249V176H250V175H251H252H253V176H254V174H255H256V176.5H257H258V174.5H259V173.5H260V175.5H261V175H262V173.5H263V175H264H265V175.5H266V174H267V175.5H268V174H269V175.5H270H271H272V175H273H274V174H275V174.5H276V175H277V176.5H278V175.5H279V174.5H280V175.5H281V176H282V174.5H283V175H284V174.5H285H286V173.5H287V174H288V175H289V176H290V175H291V175.5H292H293H294V175H295H296V174H297H298V174.5H299V174H300V175H301V174.5H302V175H303V176H304V175H305V176H306V174.5H307V175.5H308H309V174.5H310V176.5H311V175.5H312V173.5H313H314H315V174.5H316V175H317V176H318V174H319V175H320H321V174.5H322V174H323V175H324V176H325V173.5H326V175H327V176H328V175H329V174.5H330V176.5H331V174.5H332V175H333V176H334V176.5H335V175H336H337V173.5H338V175.5H339V174.5H340V173.5H341V174.5H342V173.5H343V175.5H344V176H345V175.5H346H347H348V175H349V176.5H350V175H351V175.5H352V175H353V175.5H354V174H355V176H356V175.5H357V176.5H358V174H359V176H360V175H361V175.5H362V174H363H364V175.5H365V174.5H366V175H367V174H368V176H369V175H370V176H371V174.5H372V175.5H373V176H374V174.5H375V174H376V175.5H377V174H378V176H379V175.5H380V174H381V174.5H382V174H383V176.5H384V175.5H385V176H386V174.5H387V175H388V176.5H389V174.5H390H391H392V174H393H394V175.5H395V174H396V176H397V174.5H398V175.5H399V174.5H400V175H401V173.5H402V174H403H404V174.5H405V174H406V173.5H407V174.5H408V174H409V176.5H410V175.5H411V174.5H412V175H413V174H414V174.5H415V174H416V174.5H417V175H418V176H419V174H420H421V175.5H422V175H423V174.5H424V174H425V175.5H426V175H427V174H428V174.5H429H430V176H431V175.5H432H433H434V175H435V174.5H436V175H437V175.5H438H439V175H440H441H442V174H443H444H445V176H446V174H447H448H449V175H450V175.5H451V174.5H452V176H453V175.5H454V174.5H455V176H456V173.5H457V174.5H458H459H460H461V175H462V174H463V174.5H464V175H465H466V175.5H467V174.5H468H469H470H471V176H472V174H473V175.5H474V173.5H475V174.5H476H477V174H478V176.5H479V174.5H480V175H481V175.5H482V175H483H484V173.5H485V174.5H486V176H487V174.5H488V173.5H489V174.5H490V176H491V175.5H492V174H493V176H494V173.5H495V176H496V175.5H497V174H498H499V175.5H500V173.5H501V175H502H503V176H504V175H505V174.5H506V175H507V174.5H508V175H509V174.5H510V175H511V173.5H512V176H513V174H514V175H515V174.5H516H517H518V173.5H519V174.5H520V175H521V174H522V175.5H523H524V175H525V174.5H526V175.5H527V174H528V175.5H529H530V176H531V174.5H532V177H533V176H534V175H535V175.5H536H537V174H538V173.5H539V175H540V176H541V176.5H542V175.5H543V177H544V175H545V176H546V175.5H547V174H548V176H549H550V174.5H551V175H552V176H553V177H554H555V177.5H556V175.5H557V175H558V175.5H559V176H560V174.5H561H562V177.5H563V176.5H564V177.5H565V179.5H566V179H567V179.5H568V180.5H569V177H570V179H571V177.5H572H573V181H574V178.5H575V179.5H576V180.5H577V178.5H578V179H579V176.5H580V178H581V179H582V177H583V179H584V177.5H585V179.5H586V178H587V179H588V178.5H589V176.5H590V177H591V181H592V178H593V179H594V180H595V177.5H596V177H597H598V179.5H599V178H600V180H601V177H602V180.5H603V178.5H604H605V178H606V176.5H607V179.5H608V179H609H610H611V178H612V176.5H613V177H614V178H615V177.5H616V178.5H617V180.5H618V177.5H619V179H620V176H621V178.5H622V176H623V177H624V177.5H625V175.5H626V178H627V177H628V177.5H629V178.5H630V176.5H631V180.5H632V181H633V178.5H634V180H635V179.5H636V179H637V176.5H638V177H639V176.5H640V176H641V180.5H642V178.5H643V178H644V178.5H645V176.5H646V175.5H647V175H648V174.5H649V175.5H650H651H652H653V177H654V175.5H655V176.5H656V175.5H657V177.5H658V174.5H659V176.5H660V175.5H661V175H662V176H663V174.5H664V176H665V174.5H666V175.5H667V176H668V175.5H669V174.5H670V175.5H671V176.5H672V175.5H673V176H674V174.5H675V175H676V175.5H677V177H678V175H679V175.5H680V177H681V176H682V177H683V174.5H684V176H685V176.5H686V174H687V177.5H688V176H689V175.5H690V176.5H691H692V177.5H693V174.5H694V176.5H695V176H696H697H698V175H699H700V176H701V177.5H702H703V176.5H704V174H705V176.5H706V175H707V176H708V176.5H709V178H710V175.5H711V176.5H712V175H713V177.5H714V174.5H715V176H716V175.5H717V176.5H718V176H719V177.5H720V177H721V175.5H722V177H723H724V175.5H725V177.5H726V174.5H727H728V175.5H729V175H730V176H731H732V177H733V175H734V176H735V179.5H736V177H737V181.5H738V179H739V175.5H740V177.5H741V177H742V176H743V180H744V178.5H745V175.5H746V178H747V179.5H748V180.5H749V177H750V176H751V177.5H752V178H753V176H754V177H755V179.5H756V182H757V180H758V181H759V176.5H760H761V178.5H762V178H763V179.5H764V178.5H765H766V180.5H767V180H768V177.5H769V177H770V179H771V178H772V178.5H773V175H774V175.5H775V173.5H776V175H777V176H778V174.5H779H780V173.5H781V174H782V175H783V174H784V175H785V176H786V175.5H787V174.5H788V176H789V175H790V176H791V175H792V176.5H793V173.5H794V174H795V174.5H796V174H797V174.5H798H799V173.5H800V176H801V175.5H802V173.5H803V176H804V174.5H805H806V175H807V175.5H808V176H809V175.5H810V176.5H811H812V176H813V174.5H814V175.5H815V177H816V176.5H817V175H818V175.5H819V175H820V178H821V180H822V178H823V181H824V178.5H825V181.5H826V179.5H827H828V177H829V179H830V179.5H831V176.5H832V180.5H833H834V178.5H835V180H836V176.5H837V180H838V179H839V180.5H840V177.5H841V180.5H842H843V178H844V179.5H845V179H846V178.5H847V180H848V179.5H849V177.5H850H851H852H853V180.5H854V180H855V179.5H856H857V176H858V179H859V176.5H860V178.5H861V179H862H863V179.5H864V178H865V177H866V176H867V179H868V178H869V179.5H870V180H871V179H872V179.5H873V180.5H874H875V179H876V180H877V176.5H878V177.5H879V179H880H881V178H882V178.5H883V181H884V178H885V177H886V179.5H887V178.5H888V181H889H890V180H891V176.5H892V177H893V179H894V176.5H895V179H896V181H897V177.5H898V178.5H899V177H900V179.5H901V178H902V178.5H903H904H905V178H906V177H907V178H908H909V178.5H910V180H911V178.5H912V177.5H913V180H914V179.5H915V179H916H917V179.5H918V177.5H919V176.5H920V177.5H921V181H922V177.5H923V178.5H924V180.5H925V179.5H926V178H927V178.5H928H929V178H930V177H931V180.5H932V181H933V178.5H934V177H935V178.5H936V177H937V181.5H938V179.5H939V177H940V179H941H942H943V176.5H944V178H945V179H946V178H947V176.5H948V177.5H949H950V178H951V180H952V179.5H953V178H954V177.5H955V179H956V180.5H957V179.5H958V177.5H959V179H960H961V179.5H962V177.5H963V179H964V178H965V180.5H966V177.5H967V180H968H969V177.5H970H971V179H972V181.5H973V178H974V179.5H975V180H976V178.5H977V180H978V216.3Z" fill="#74ea22"/>
<path d="M130 216.3V182H131V181.5H132H133H134V180H135V180.5H136V181H137H138V180.5H139V180H140V180.5H141V181.5H142V181H143H144V180.5H145V181H146V182H147H148H149V181H150H151V182H152V180H153V180.5H154V181.5H155H156V180.5H157H158V182H159H160V180.5H161H162V180H163V181H164V180.5H165H166V181.5H167V181H168V181.5H169V180.5H170V181.5H171V180H172V181H173V180.5H174V181.5H175V180.5H176V181.5H177V180.5H178V181H179V180.5H180V181.5H181V181H182V180.5H183V181H184H185H186H187V181.5H188V180.5H189V180H190V181H191V180.5H192V181.5H193V180.5H194V181H195H196V180.5H197V181.5H198V182H199V180.5H200V180H201V181H202V182H203V180H204V181.5H205V182H206V180.5H207V181.5H208V182H209V181.5H210V182H211V180.5H212V181H213V181.5H214V181H215V181.5H216H217V182H218V180.5H219V182H220H221V181.5H222V180.5H223V181.5H224V182H225V180.5H226V181H227V180.5H228V181.5H229V180H230V180.5H231V181H232V177.5H233V178.5H234H235V179.5H236V177H237V178.5H238V177.5H239V179H240V178H241V177.5H242H243V177H244V177.5H245V178.5H246V177.5H247V179H248V179.5H249V179H250V178H251H252V178.5H253V179H254V177.5H255H256V179.5H257H258V177.5H259V177H260V178.5H261V179.5H262V177.5H263H264V179H265V178H266V177.5H267H268H269V178.5H270H271V179H272V178H273V177H274V177.5H275V177H276V179H277H278V178H279V178.5H280V177.5H281V178.5H282V178H283V178.5H284V178H285V177.5H286V177H287V177.5H288V178H289V179H290V177.5H291V178H292V178.5H293V178H294V178.5H295V179.5H296V178.5H297V178H298V177H299V178.5H300V177.5H301V177H302V179H303V179.5H304V178H305V178.5H306V177.5H307V179H308V178.5H309V178H310V178.5H311V177.5H312H313V177H314V177.5H315H316V178.5H317V179H318V177.5H319V178H320V178.5H321V178H322V177.5H323V178.5H324V178H325V177.5H326H327V179H328H329V178.5H330V179.5H331H332V178H333V178.5H334V179H335H336H337V177.5H338V179.5H339V178.5H340V177.5H341V179H342V177H343V178H344V179H345V178.5H346H347V179H348V178.5H349H350V179H351V178.5H352V178H353V178.5H354V177H355V178.5H356H357V179H358V178H359V179H360V177.5H361V178.5H362V177H363H364V178H365V177H366V178H367V177.5H368V178.5H369V179H370V178.5H371V179H372V177.5H373V178.5H374H375V178H376H377H378V179H379V178.5H380H381V179H382V177H383V179H384V178H385V178.5H386V179H387V178H388V179H389V177.5H390H391H392V178H393V178.5H394V179H395V178.5H396V179H397V178.5H398H399V179H400V178H401V176.5H402V178H403V177.5H404V178H405V177.5H406V177H407V179H408V176.5H409V179H410V178H411V177H412V178H413V177H414V178H415V176.5H416V177H417V178.5H418H419V177.5H420V177H421V177.5H422V179H423V177.5H424V177H425V178H426V177H427H428H429H430V179H431H432V178.5H433V178H434V177H435H436H437V178H438V179H439V177.5H440H441V178H442H443V177H444H445V178.5H446V177H447V177.5H448V178H449V177.5H450V178.5H451H452H453V178H454V177H455V178.5H456V176.5H457V178H458H459V177.5H460V178.5H461V178H462H463H464V177.5H465V178H466V178.5H467V178H468V177.5H469V178H470V178.5H471V178H472V176.5H473V179H474V177H475V178.5H476V178H477V178.5H478V179H479V178.5H480V178H481H482V177.5H483V179H484V176.5H485V178H486V178.5H487V177H488V177.5H489V177H490V179H491V178H492V177H493V178.5H494V177H495V178.5H496V178H497H498H499H500V177H501V178.5H502V177H503V178H504V177H505V176.5H506V178H507V177.5H508V177H509V178H510V177.5H511V177H512V178.5H513H514V177H515H516H517V178H518V176.5H519V178H520V177.5H521V178.5H522H523V179H524V177.5H525V178.5H526V179H527V177H528V178.5H529V180.5H530V179.5H531V179H532V181H533V180H534V178.5H535H536H537H538V178H539V180H540V179.5H541V180.5H542V180H543V180.5H544V178H545V180.5H546V178.5H547V178H548V179H549V178.5H550H551V178H552V179H553V180.5H554V180H555H556V178H557V179H558V179.5H559V179H560V178.5H561V179H562V183.5H563V181.5H564V183.5H565V184H566V183H567V184.5H568V186H569V182.5H570V183H571V185H572V181.5H573V184.5H574V183H575V184H576V185.5H577V182H578V184.5H579V181.5H580V184.5H581V183H582V182H583V184.5H584V182.5H585V185.5H586V186H587V185H588V184H589V182.5H590V183H591V185.5H592V182H593V185.5H594V184.5H595V183.5H596V181.5H597V181H598V184.5H599V183.5H600V185.5H601V181H602V184.5H603V184H604V185H605V185.5H606V183.5H607V185H608V183.5H609V182.5H610H611V185H612V181.5H613V182.5H614V181.5H615V184.5H616V185.5H617V184.5H618V184H619V182H620V181.5H621V183.5H622V182H623H624V181H625H626V182.5H627H628V183.5H629V181.5H630V182.5H631V185.5H632V186H633V182.5H634V184H635V183H636V182.5H637H638V182H639V181.5H640H641V185H642V184.5H643V185H644V184.5H645V181.5H646V178.5H647V181H648V178.5H649V180.5H650H651H652V181H653H654V180.5H655V180H656V178H657V181H658V179.5H659V180.5H660V179H661V178.5H662V179.5H663V178H664V178.5H665V179.5H666V178.5H667H668H669V180H670V179.5H671V180H672V180.5H673H674V179H675V178.5H676V179H677V180H678V179H679V180H680V180.5H681V178.5H682V180H683V178.5H684V181H685H686V178H687V180.5H688V178.5H689V179H690H691V180H692V180.5H693V178.5H694V180H695V181H696V179H697V180.5H698V179H699V179.5H700V180H701V180.5H702H703H704V178.5H705V180.5H706V179.5H707V180.5H708V179.5H709V180.5H710V178H711V179.5H712V179H713V181H714V178H715V179.5H716V181H717V180H718V180.5H719H720V180H721V179H722V180.5H723V180H724V178.5H725V180.5H726V179H727H728V178.5H729V180H730V181H731V178.5H732V180.5H733V179H734V179.5H735V183.5H736V184H737V185.5H738H739V182H740V185.5H741V182H742V182.5H743V186H744V183.5H745V181.5H746V186H747V183.5H748V186H749V182.5H750V181.5H751V184.5H752V185H753V181H754V182.5H755V184.5H756V186H757V185H758V186H759V181.5H760V181H761V185.5H762V182H763V183.5H764V184.5H765V183.5H766V185H767V184H768V184.5H769V181.5H770V182.5H771V183.5H772H773V177.5H774V179.5H775V177H776V177.5H777V178.5H778H779V178H780V177H781V177.5H782H783H784V178.5H785V179H786H787V177.5H788V178H789V177H790V179.5H791V177.5H792V179H793V178H794V177.5H795V179H796V177H797V178H798V178.5H799V177H800V179H801V177.5H802V177H803V178.5H804V179.5H805V179H806V177.5H807H808V178.5H809V177.5H810V179.5H811H812V179H813V178.5H814V178H815V179.5H816V179H817V177.5H818V178H819V178.5H820V183.5H821V186H822V184.5H823V186H824H825V185.5H826V183.5H827V185.5H828V182.5H829V184H830V183H831V182.5H832V184.5H833H834V185.5H835V184.5H836H837V185.5H838V185H839V186H840V184H841V185H842V185.5H843V183.5H844H845V185H846V185.5H847V186H848V184H849V183.5H850H851V184.5H852V182.5H853V185.5H854V185H855V185.5H856H857V182H858V185H859V183.5H860V185H861V182H862V185.5H863V183H864V185.5H865V182.5H866V182H867V183H868V183.5H869V186H870V184.5H871V186H872V185.5H873V185H874V184H875V183.5H876V186H877V182.5H878V185.5H879H880V184.5H881V184H882H883V186H884V184H885V183H886V183.5H887V182H888V185H889V185.5H890V186H891V182.5H892V183.5H893V185H894V182.5H895V182H896V185H897V183.5H898V182H899V183.5H900V185H901V182.5H902V184.5H903V186H904V184.5H905H906V184H907V185H908V182.5H909V184H910V185H911V183.5H912V183H913V186H914V185.5H915V183H916H917V184.5H918V184H919V183H920V182H921V185H922V184.5H923H924V184H925V184.5H926V183.5H927V186H928V182.5H929V183.5H930V183H931V185.5H932H933V184.5H934H935V183.5H936V183H937V186H938V184H939V183H940H941V182H942V182.5H943H944V182H945V185H946V184.5H947V183.5H948H949V184H950V183H951V183.5H952V186H953V182H954V183H955V183.5H956V185H957V186H958V185H959V183H960V183.5H961V184H962V182.5H963V183.5H964V185H965V184H966V183.5H967V185.5H968V184.5H969H970V183.5H971H972V185.5H973V182H974V183.5H975V184H976V186H977V183.5H978V216.3Z" fill="#a8ec30"/>
<path d="M130 216.3V216.3H131H132H133H134H135H136H137H138H139H140H141H142H143H144H145H146H147H148H149H150H151H152H153H154H155H156H157H158H159H160H161H162H163H164H165H166H167H168H169H170H171H172H173H174H175H176H177H178H179H180H181H182H183H184H185H186H187H188H189H190H191H192H193H194H195H196H197H198H199H200H201H202H203H204H205H206H207H208H209H210H211H212H213H214H215H216H217H218H219H220H221H222H223H224H225H226H227H228H229H230H231H232H233H234V187H235V216.3H236V186.5H237V216.3H238H239H240H241H242H243H244H245H246H247H248H249H250V186.5H251V216.3H252H253H254H255H256H257V184.5H258V216.3H259V185H260H261H262V186H263V216.3H264H265H266H267V185.5H268H269V216.3H270V186H271V216.3H272H273H274H275H276V184.5H277V216.3H278H279V184H280V184.5H281V216.3H282H283H284H285V183H286V216.3H287V184H288V216.3H289H290H291H292V184H293V183.5H294H295V185.5H296V216.3H297V183.5H298V216.3H299H300V187H301V216.3H302H303H304V185.5H305H306V216.3H307H308V187H309V216.3H310H311H312V186H313V216.3H314H315H316V186H317V216.3H318H319H320H321V185H322V216.3H323H324H325H326H327H328H329H330H331H332H333V187H334V184.5H335V186.5H336V216.3H337H338H339H340V185.5H341V216.3H342H343V184.5H344V216.3H345V184.5H346V186.5H347V216.3H348H349V183H350V183.5H351V216.3H352H353H354V183H355V184.5H356V216.3H357V185H358V216.3H359V186H360V216.3H361V183.5H362V185H363V216.3H364H365H366V183.5H367V216.3H368V185H369V216.3H370V184H371V216.3H372H373H374H375H376H377V185.5H378V216.3H379V183H380V184.5H381V216.3H382V185.5H383V216.3H384H385H386H387H388V183H389V183.5H390V216.3H391H392H393H394H395H396H397H398H399H400H401H402H403H404H405H406H407H408H409H410H411H412H413H414H415H416H417H418H419H420H421H422H423H424H425H426H427H428H429H430H431H432H433H434H435H436H437H438H439H440H441H442H443H444H445H446H447H448H449H450H451H452H453H454H455H456H457H458H459H460H461H462H463H464H465H466H467H468H469H470H471H472H473H474H475H476H477H478H479H480H481H482H483H484H485H486H487H488H489H490H491H492H493H494H495H496H497H498H499H500H501H502H503H504H505H506H507H508H509H510H511H512H513H514H515H516H517H518H519H520H521H522H523H524H525H526H527H528V183H529V184.5H530V180H531V180.5H532V179.5H533V183H534V179.5H535V181.5H536V180H537V182.5H538H539V184H540V184.5H541H542V180H543V182.5H544V179.5H545V181H546V183H547V182.5H548H549V178.5H550V182H551V182.5H552V178H553V179.5H554V181.5H555V184H556V183H557V179.5H558H559V180H560V181H561V179.5H562V216.3H563H564H565H566H567H568H569H570H571H572H573H574H575H576H577H578H579H580H581H582H583H584H585H586H587H588H589H590H591H592H593H594H595H596H597H598H599H600H601H602H603H604H605H606H607H608H609H610H611H612H613H614H615H616H617H618H619H620H621H622H623H624H625H626H627H628H629H630H631H632H633H634H635H636H637H638H639H640H641H642H643H644H645H646V182.5H647V178H648V182.5H649V181.5H650V181H651V182H652V180H653V181H654V182.5H655V179H656V182.5H657V183.5H658H659H660V183H661V180.5H662V182.5H663V182H664V181H665H666V178.5H667V180.5H668V182.5H669V181H670V182H671V185H672V177.5H673V183.5H674V181H675H676V182.5H677V182H678V183H679V181.5H680V181H681V183H682V184.5H683V180H684V178.5H685V177H686V183H687V181H688V183H689V181H690V183H691V180.5H692V181.5H693V182H694V183.5H695V179.5H696V182H697V181H698V178.5H699V177.5H700V184H701V180H702V180.5H703V180H704V181H705V182.5H706V181H707V184H708V183H709V182H710V181.5H711V180H712V183H713V181H714H715V183H716V178.5H717V185H718V182H719V183.5H720V178H721H722V182.5H723V181H724V183H725V182.5H726V179H727V181H728V179.5H729V181H730V179H731V183H732V179.5H733V178H734V179.5H735V216.3H736H737H738H739H740H741H742H743H744H745H746H747H748H749H750H751H752H753H754H755H756H757H758H759H760H761H762H763H764H765H766H767H768H769H770H771H772H773V186.5H774V216.3H775H776H777H778V187H779V186H780V216.3H781H782H783V183.5H784V216.3H785H786H787H788H789H790H791H792H793V184H794V186.5H795V216.3H796H797H798V185H799V216.3H800V184.5H801V186H802V183.5H803V216.3H804H805H806H807H808H809H810H811H812H813H814H815H816H817V187H818V216.3H819H820H821H822H823H824H825H826H827H828H829H830H831H832H833H834H835H836H837H838H839H840H841H842H843H844H845H846H847H848H849H850H851H852H853H854H855H856H857H858H859H860H861H862H863H864H865H866H867H868H869H870H871H872H873H874H875H876H877H878H879H880H881H882H883H884H885H886H887H888H889H890H891H892H893H894H895H896H897H898H899H900H901H902H903H904H905H906H907H908H909H910H911H912H913H914H915H916H917H918H919H920H921H922H923H924H925H926H927H928H929H930H931H932H933H934H935H936H937H938H939H940H941H942H943H944H945H946H947H948H949H950H951H952H953H954H955H956H957H958H959H960H961H962H963H964H965H966H967H968H969H970H971H972H973H974H975H976H977H978V216.3Z" fill="#8cb4f4"/>
<path d="M130 216.3V216.3H131H132H133H134H135V191H136V193.5H137V185.5H138V191.5H139V186H140V189H141V193H142V216.3H143H144H145H146H147V192H148V186.5H149V190H150V187.5H151V190H152V193.5H153V216.3H154H155H156V191H157V186.5H158V190H159V191H160V216.3H161H162H163H164H165V190.5H166V192.5H167V189H168V190H169V187.5H170V187H171V190.5H172V216.3H173H174H175V190.5H176V191H177V191.5H178V216.3H179H180H181H182H183V187H184V190.5H185V189.5H186H187V186.5H188V216.3H189H190H191V190H192V187H193V187.5H194V216.3H195H196V191H197V192H198V191.5H199V191H200V190H201V186H202V192H203V216.3H204H205H206H207H208V189H209V188H210V188.5H211V185H212V186H213V187.5H214V216.3H215H216H217V194.5H218V189.5H219V184.5H220V190.5H221V186.5H222V190H223V187.5H224V216.3H225H226V190H227V191H228V191.5H229V188H230V189.5H231V186H232V187H233V184.5H234V185H235V184H236V187.5H237V185.5H238V184.5H239V184H240V188.5H241V187.5H242H243V186.5H244H245V188H246V184.5H247V186.5H248V187H249V185H250V187.5H251V188H252V185H253V184H254V186H255V185H256V186.5H257V188.5H258V189H259V187.5H260V186.5H261V188.5H262V185H263V186H264V188.5H265V186H266V185H267V185.5H268V186H269H270H271V189H272V184.5H273V185H274V188.5H275V189H276V188H277V189H278V187H279V185H280V184.5H281V186H282V189H283V186.5H284V188.5H285V186H286V188H287V185H288V185.5H289V184.5H290V187.5H291V189.5H292V188H293V185H294V184.5H295V185H296V185.5H297V189H298V188H299V187.5H300H301V184H302V185H303V184.5H304V186.5H305V185H306V186H307V185.5H308V189H309V186H310V184H311V186H312H313V184.5H314V186.5H315V188.5H316V187.5H317V188H318V185H319V187H320V188.5H321V187.5H322V184.5H323V185H324V185.5H325V186H326V185H327H328V187H329V185H330V185.5H331V185H332V184.5H333V189H334V188.5H335V184.5H336V187.5H337V189H338V185H339V187H340H341V186.5H342V189H343V185H344V187.5H345V187H346V189.5H347V186H348V185.5H349V186H350V187H351V187.5H352V186H353V187.5H354V187H355V184.5H356V186.5H357V188H358V189H359V187.5H360V189H361V186.5H362V187H363V184.5H364V185.5H365V186.5H366V185H367V184H368V187.5H369V184.5H370V188H371H372V185H373V187H374V186.5H375V186H376V184.5H377V186H378V189H379V186.5H380V185H381V188.5H382V187.5H383V184H384V189H385V188H386V187.5H387V186.5H388V185.5H389V187.5H390V186H391V187.5H392V184.5H393V186.5H394V188H395V184.5H396V187H397V186H398V186.5H399V187H400V186H401V185.5H402V189H403V186.5H404H405V185H406V187.5H407V188H408V187.5H409V183H410V184.5H411V189.5H412V184.5H413H414V185.5H415V185H416V188H417V184.5H418V186H419V187.5H420V187H421V184.5H422V186H423V185.5H424V184.5H425V186.5H426V188H427V187H428V183.5H429V183H430V187.5H431V186.5H432V185H433V184H434V185H435V184.5H436V189H437V184H438V186H439V183.5H440V185H441V185.5H442V188H443V186H444V185.5H445V188.5H446V184.5H447V188H448V185H449V189H450V187H451V189H452V187H453V189H454V188.5H455V184.5H456V185.5H457V183.5H458V185.5H459V184.5H460V185.5H461V187H462V188H463V185H464V189H465V186.5H466V187H467H468V184.5H469V185H470V187H471V184.5H472V188H473V187H474V188H475V189H476V188H477V184.5H478V188H479V185H480V184.5H481V186.5H482V184H483V184.5H484V187H485V185.5H486V187.5H487V184H488V186H489V186.5H490V184.5H491V188.5H492V187.5H493V184H494V187.5H495V185H496V186.5H497H498V185H499V184H500V186H501V185H502V187.5H503V185H504V185.5H505V185H506H507H508V183.5H509V187H510H511V186.5H512V188.5H513V183.5H514V185H515V188.5H516V187H517V185.5H518V187.5H519V184.5H520V185.5H521V184.5H522V188.5H523V185H524H525V186H526V186.5H527V188H528V187H529V189.5H530V184.5H531V186H532V188H533H534V186.5H535V190.5H536V185.5H537V187H538V184.5H539V189.5H540V188.5H541V186H542V184.5H543V185H544V186.5H545V188H546V187.5H547V190H548V186.5H549V189H550V187.5H551V190.5H552V184.5H553V191H554V188H555V187H556V191H557V189.5H558V187.5H559V188.5H560V187.5H561V190H562V186.5H563V187.5H564V190H565V191.5H566H567V187H568V189H569V187H570V189.5H571V189H572V191H573V189.5H574V192H575V190.5H576V189.5H577V187H578V190.5H579V190H580H581V192.5H582V190H583V189.5H584V187.5H585V190H586V193H587V191H588V189.5H589V188.5H590V191H591H592V187.5H593V189H594V190H595V191.5H596V188H597V189H598V189.5H599V190.5H600V189H601V188H602V191H603V187.5H604V188.5H605V187.5H606V191.5H607V193H608V189H609H610V191H611H612V188.5H613H614V188H615H616V189H617V192H618V193.5H619V188.5H620V187.5H621V185.5H622V191H623V192.5H624V189.5H625V186H626V187.5H627V192H628V190H629V191.5H630V189.5H631V190.5H632V192H633H634V186H635V189H636V191.5H637V185.5H638V193H639V188H640V188.5H641V186H642V188.5H643V190H644V191.5H645V191H646V187.5H647V188H648V187.5H649V190.5H650V185H651V184.5H652V189H653V184.5H654V188.5H655V189.5H656V188.5H657V186.5H658H659V184.5H660V190.5H661V187.5H662V185H663V188H664V189H665H666V185H667V189H668V190.5H669V188.5H670V185.5H671V187H672V185H673V189.5H674V187H675V188.5H676V184.5H677V187H678V188.5H679V190H680V184.5H681V188H682V186.5H683V189.5H684V190H685V184.5H686V186H687V188.5H688V186.5H689V189H690V186H691V188.5H692V185H693V189H694V186.5H695V188H696V185H697V189.5H698V187H699V186H700V187.5H701V185.5H702V190.5H703V189.5H704V186.5H705V185.5H706V184.5H707V187.5H708V188H709V187H710V186H711V188.5H712V187H713V187.5H714V187H715H716V184.5H717V188.5H718V186H719V189H720V185H721H722V189H723V188.5H724V187.5H725V185.5H726H727V188H728V190.5H729V187H730V185.5H731V189H732V188H733V186.5H734V185.5H735V190.5H736V190H737V189.5H738V187H739V192H740V193H741V186.5H742V188H743V190.5H744V187.5H745V189H746V190.5H747V185H748V187.5H749H750V192.5H751V185.5H752V188.5H753H754H755V187.5H756V191.5H757V191H758V185.5H759V187H760V190H761V190.5H762V189.5H763V190H764V191H765H766V189.5H767V188.5H768V189H769V188H770V188.5H771V192H772V188.5H773V187H774V185.5H775V185H776H777V189H778V185.5H779V188H780V187.5H781V187H782V186H783V188.5H784V184H785V186H786V187H787V184.5H788V189.5H789V186.5H790V185.5H791V189H792V188H793V186H794V186.5H795V185.5H796V186H797V188.5H798V185H799V188.5H800V189H801V184H802V185.5H803V187H804V188.5H805V188H806V186.5H807V187H808H809V184.5H810V188.5H811V189H812V187H813V189H814V185.5H815V188.5H816V187H817V189H818V185.5H819V186.5H820V185.5H821H822V185H823H824V184.5H825V186H826V187H827V183.5H828V184H829V185.5H830V183.5H831V185H832H833V184H834V186.5H835V184H836V187.5H837V185H838V183.5H839V186.5H840V184.5H841H842V186H843V185H844V184H845V185H846V186H847V184H848H849V186.5H850V182.5H851V183.5H852V185H853V184.5H854H855V186H856V184H857V185.5H858H859V182.5H860V184.5H861V187.5H862V185.5H863V185H864V186.5H865H866V184H867V186H868H869H870V185H871V186.5H872V185H873V183.5H874V185H875V186.5H876V186H877V183.5H878V185H879V186H880V183H881V182.5H882V185H883H884V184.5H885V186H886H887V185.5H888V186H889V185H890V185.5H891H892V187.5H893V183H894V184H895V186.5H896V186H897V183.5H898V186.5H899V185H900V185.5H901V187.5H902V183.5H903H904V185H905V185.5H906H907V184.5H908V186H909V185.5H910V185H911V184H912V184.5H913V187.5H914V185H915V184H916V187.5H917V185.5H918H919H920V184H921V186H922V186.5H923V186H924V184.5H925V183H926V187.5H927V184H928V185.5H929H930V185H931V184H932H933V186.5H934H935V185H936V183H937V185.5H938V184.5H939V185H940V186.5H941V185.5H942V185H943V186.5H944V183H945V183.5H946V186.5H947V183.5H948V184.5H949V186.5H950V184.5H951V186.5H952V184H953V185H954V185.5H955V185H956V186.5H957V184.5H958V183.5H959V185H960H961V184H962V186.5H963V185H964V187.5H965V182.5H966V185H967V185.5H968V185H969V184H970V185.5H971V184.5H972V185H973V184.5H974H975H976V185.5H977V184H978V216.3Z" fill="#bcbcf6"/>
<path d="M130 216.3V184H131V185H132V184.5H133H134V182.5H135V216.3H136H137H138H139H140H141H142V185H143V186H144V184H145V183H146V185H147V216.3H148H149H150H151H152H153V184.5H154V185.5H155H156V216.3H157H158H159H160V185H161V183H162H163V184.5H164V184H165V216.3H166H167H168H169H170H171H172V185H173V183.5H174V185.5H175V216.3H176H177H178V183H179V184.5H180V185H181V185.5H182V184H183V216.3H184H185H186H187H188V185H189V184.5H190V183H191V216.3H192H193H194V185.5H195H196V216.3H197H198H199H200H201H202H203V183.5H204V186H205H206V184H207H208V216.3H209H210H211H212H213H214V185H215V186H216V184.5H217V216.3H218H219H220H221H222H223H224V186.5H225V184.5H226V216.3H227H228H229H230H231H232H233V182.5H234V216.3H235H236H237H238H239H240H241H242H243H244H245H246H247H248H249H250H251H252H253H254H255H256H257H258H259H260H261H262H263H264H265V185H266V184H267V216.3H268H269H270H271H272H273H274H275H276H277H278H279H280H281H282H283H284H285H286H287V185H288V216.3H289H290H291H292H293H294H295H296H297V187.5H298V216.3H299H300H301H302V184H303V182.5H304V216.3H305H306H307H308H309H310H311H312V184H313V183.5H314V216.3H315H316H317H318H319H320H321H322H323H324H325H326H327V184H328V216.3H329H330H331H332H333H334H335H336H337H338V184.5H339V216.3H340H341H342H343H344H345H346H347H348H349H350H351H352H353H354V187H355V184H356V216.3H357H358V187H359V216.3H360H361V185.5H362V186.5H363V216.3H364H365H366H367H368H369H370V186H371V216.3H372H373V185H374V216.3H375H376H377H378H379V185.5H380V184H381V216.3H382H383H384H385V187.5H386V216.3H387H388H389H390H391H392H393H394H395V183H396V187H397V184H398V185H399V186.5H400V184.5H401V184H402V216.3H403H404H405H406V186H407V186.5H408V186H409V181.5H410V183H411V189.5H412V216.3H413H414H415H416V186.5H417V183.5H418V184.5H419V186.5H420H421V183.5H422V216.3H423H424H425H426V187H427V186.5H428V181.5H429H430V186H431H432V216.3H433H434H435V183.5H436V187H437V183.5H438V184.5H439V183.5H440H441V184.5H442V216.3H443H444H445V187.5H446V183.5H447V187.5H448V185H449V188.5H450V185.5H451V216.3H452H453H454V188.5H455V183H456V185.5H457V181.5H458V185H459V183H460V216.3H461H462H463V184H464V187H465V184.5H466V186.5H467V185H468V184.5H469V184H470V185.5H471V216.3H472H473H474H475V188H476V187.5H477V183H478V187.5H479V184.5H480V216.3H481H482H483H484V186H485V184H486V186H487V182H488V184H489V216.3H490H491H492V187.5H493V183H494V187.5H495V184.5H496V185.5H497V216.3H498H499H500V185.5H501V184H502V187.5H503V183.5H504V185H505V183H506V183.5H507V216.3H508H509H510V185.5H511V185H512V187H513V183.5H514V185H515V187.5H516V186.5H517V185.5H518V216.3H519H520H521H522H523H524H525H526H527H528H529H530H531H532H533H534H535H536H537H538H539H540H541H542H543H544H545H546H547H548H549H550H551H552H553H554H555H556H557H558H559H560H561H562H563V187H564H565V189.5H566V216.3H567H568H569H570H571V191H572V185.5H573V190.5H574V186.5H575V216.3H576H577H578H579H580H581H582V185H583V190H584V185H585V191.5H586V189H587V216.3H588H589H590H591V191.5H592V185.5H593V187.5H594V216.3H595H596H597H598H599V186H600V188.5H601V185.5H602V216.3H603H604H605H606H607H608V186H609V186.5H610V186H611V190.5H612V216.3H613H614H615H616H617H618H619V188H620V185.5H621V189H622V184.5H623V187.5H624V216.3H625H626H627H628V186H629H630V186.5H631V190.5H632V191.5H633V216.3H634H635H636V186.5H637H638V185.5H639V216.3H640H641H642H643H644H645V187H646V189.5H647V190H648V189.5H649V216.3H650H651V186.5H652V216.3H653H654H655H656H657H658H659H660H661H662H663H664H665H666H667H668H669H670H671H672H673H674H675H676H677H678H679H680H681H682H683H684H685H686H687H688H689H690H691H692H693H694H695H696V187H697V216.3H698H699H700H701H702H703H704H705H706H707H708H709H710H711H712H713H714H715H716H717H718H719H720H721H722H723H724H725H726H727H728H729H730H731H732H733H734H735H736H737V190H738V189H739V187H740V216.3H741H742H743H744H745V187H746V189.5H747V188.5H748H749V185H750V216.3H751H752H753V185H754V187H755V189.5H756V189H757V216.3H758H759H760V186H761V189H762V187H763V216.3H764H765H766V187.5H767V190H768V188.5H769V184H770V216.3H771H772H773H774H775H776H777H778H779H780H781H782H783H784H785H786H787H788H789H790H791H792H793H794H795H796H797H798H799H800H801H802H803H804H805H806H807H808H809H810H811H812H813H814H815H816H817H818H819H820V187H821V189H822V187.5H823V188.5H824V190H825V188.5H826V216.3H827H828H829H830V185.5H831V186H832V187.5H833H834V189.5H835V186.5H836V216.3H837H838H839H840V187H841V189H842V187.5H843V187H844H845V186.5H846V189H847V188H848V186H849V216.3H850H851H852H853V187H854H855H856V189.5H857V186H858V216.3H859H860H861H862V188H863V184.5H864V189H865V186.5H866V185.5H867V185H868V187.5H869V189.5H870V186.5H871V216.3H872H873H874H875V186.5H876V188H877V184.5H878V188.5H879V216.3H880H881H882H883V189H884V187.5H885V186H886V186.5H887V185H888V189H889V189.5H890H891V184.5H892V216.3H893H894H895H896V187H897V186.5H898V184.5H899V185H900V187H901V216.3H902H903H904H905V187H906V187.5H907V188.5H908V186.5H909V186H910V189H911V186.5H912V184.5H913V216.3H914H915H916H917V187.5H918V186H919H920V184.5H921V188H922V186.5H923V216.3H924H925H926H927V189H928V184H929V185H930V187H931V189H932V188.5H933V187.5H934V216.3H935H936H937H938V186H939V185.5H940V187H941V185.5H942H943V216.3H944H945H946H947H948H949H950V186H951V187.5H952V188H953V184.5H954V185H955V186.5H956V216.3H957H958H959H960V187.5H961H962V184.5H963V187.5H964V216.3H965H966H967H968V188H969V187.5H970V187H971V186H972V189.5H973V185H974V187.5H975H976V216.3H977H978V216.3Z" fill="#f8ee98"/>
<rect x="130" y="193" width="848" height="15.6" fill="url(#stp)"/>
<path d="M130 216.3V216.3H131H132H133H134H135V193H136V193.5H137V193H138H139H140H141H142V216.3H143H144H145H146H147V193H148H149H150H151H152V193.5H153V216.3H154H155H156V193H157H158H159H160V216.3H161H162H163H164H165V193H166H167H168H169H170H171H172V216.3H173H174H175V193H176H177H178V216.3H179H180H181H182H183V193H184H185H186H187H188V216.3H189H190H191V193H192H193H194V216.3H195H196V193H197H198H199H200H201H202H203V216.3H204H205H206H207H208V193H209H210H211H212H213H214V216.3H215H216H217V194.5H218V193H219H220H221H222H223H224V216.3H225H226V193H227H228H229H230H231H232H233V216.3H234V193H235H236H237H238H239H240H241H242H243H244H245H246H247H248H249H250H251H252H253H254H255H256H257H258H259H260H261H262H263H264H265V216.3H266H267V193H268H269H270H271H272H273H274H275H276H277H278H279H280H281H282H283H284H285H286H287V216.3H288V193H289H290H291H292H293H294H295H296H297V216.3H298V193H299H300H301H302V216.3H303H304V193H305H306H307H308H309H310H311H312V216.3H313H314V193H315H316H317H318H319H320H321H322H323H324H325H326H327V216.3H328V193H329H330H331H332H333H334H335H336H337H338V216.3H339V193H340H341H342H343H344H345H346H347H348H349H350H351H352H353H354V216.3H355H356V193H357H358V216.3H359V193H360H361V216.3H362H363V193H364H365H366H367H368H369H370V216.3H371V193H372H373V216.3H374V193H375H376H377H378H379V216.3H380H381V193H382H383H384H385V216.3H386V193H387H388H389H390H391H392H393H394H395V216.3H396H397H398H399H400H401H402V193H403H404H405H406V216.3H407H408H409H410H411H412V193H413H414H415H416V216.3H417H418H419H420H421H422V193H423H424H425H426V216.3H427H428H429H430H431H432V193H433H434H435V216.3H436H437H438H439H440H441H442V193H443H444H445V216.3H446H447H448H449H450H451V193H452H453H454V216.3H455H456H457H458H459H460V193H461H462H463V216.3H464H465H466H467H468H469H470H471V193H472H473H474H475V216.3H476H477H478H479H480V193H481H482H483H484V216.3H485H486H487H488H489V193H490H491H492V216.3H493H494H495H496H497V193H498H499H500V216.3H501H502H503H504H505H506H507V193H508H509H510V216.3H511H512H513H514H515H516H517H518V193H519H520H521H522H523H524H525H526H527H528H529H530H531H532H533H534H535H536H537H538H539H540H541H542H543H544H545H546H547H548H549H550H551H552H553H554H555H556H557H558H559H560H561H562H563V216.3H564H565H566V193H567H568H569H570H571V216.3H572H573H574H575V193H576H577H578H579H580H581H582V216.3H583H584H585H586H587V193H588H589H590H591V216.3H592H593H594V193H595H596H597H598H599V216.3H600H601H602V193H603H604H605H606H607H608V216.3H609H610H611H612V193H613H614H615H616H617H618V193.5H619V216.3H620H621H622H623H624V193H625H626H627H628V216.3H629H630H631H632H633V193H634H635H636V216.3H637H638H639V193H640H641H642H643H644H645V216.3H646H647H648H649V193H650H651V216.3H652V193H653H654H655H656H657H658H659H660H661H662H663H664H665H666H667H668H669H670H671H672H673H674H675H676H677H678H679H680H681H682H683H684H685H686H687H688H689H690H691H692H693H694H695H696V216.3H697V193H698H699H700H701H702H703H704H705H706H707H708H709H710H711H712H713H714H715H716H717H718H719H720H721H722H723H724H725H726H727H728H729H730H731H732H733H734H735H736H737V216.3H738H739H740V193H741H742H743H744H745V216.3H746H747H748H749H750V193H751H752H753V216.3H754H755H756H757V193H758H759H760V216.3H761H762H763V193H764H765H766V216.3H767H768H769H770V193H771H772H773H774H775H776H777H778H779H780H781H782H783H784H785H786H787H788H789H790H791H792H793H794H795H796H797H798H799H800H801H802H803H804H805H806H807H808H809H810H811H812H813H814H815H816H817H818H819H820V216.3H821H822H823H824H825H826V193H827H828H829H830V216.3H831H832H833H834H835H836V193H837H838H839H840V216.3H841H842H843H844H845H846H847H848H849V193H850H851H852H853V216.3H854H855H856H857H858V193H859H860H861H862V216.3H863H864H865H866H867H868H869H870H871V193H872H873H874H875V216.3H876H877H878H879V193H880H881H882H883V216.3H884H885H886H887H888H889H890H891H892V193H893H894H895H896V216.3H897H898H899H900H901V193H902H903H904H905V216.3H906H907H908H909H910H911H912H913V193H914H915H916H917V216.3H918H919H920H921H922H923V193H924H925H926H927V216.3H928H929H930H931H932H933H934V193H935H936H937H938V216.3H939H940H941H942H943V193H944H945H946H947H948H949H950V216.3H951H952H953H954H955H956V193H957H958H959H960V216.3H961H962H963H964V193H965H966H967H968V216.3H969H970H971H972H973H974H975H976V193H977H978V216.3Z" fill="#bcbcf6"/>
<path d="M130 216.3V216.3H131H132H133H134H135H136H137H138H139H140H141H142H143H144H145H146H147H148H149H150H151H152H153H154H155H156H157H158H159H160H161H162H163H164H165H166H167H168H169H170H171H172H173H174H175H176H177H178H179H180H181H182H183H184H185H186H187H188H189H190H191H192H193H194H195H196H197H198H199H200H201H202H203H204H205H206H207H208H209H210H211H212H213H214H215H216H217H218H219H220H221H222H223H224H225H226H227H228H229H230H231H232H233H234H235H236H237H238H239H240H241H242H243H244H245H246H247H248H249H250H251H252H253H254H255H256H257H258H259H260H261H262H263H264H265H266H267H268H269H270H271H272H273H274H275H276H277H278H279H280H281H282H283H284H285H286H287H288H289H290H291H292H293H294H295H296H297H298H299H300H301H302H303H304H305H306H307H308H309H310H311H312H313H314H315H316H317H318H319H320H321H322H323H324H325H326H327H328H329H330H331H332H333H334H335H336H337H338H339H340H341H342H343H344H345H346H347H348H349H350H351H352H353H354H355H356H357H358H359H360H361H362H363H364H365H366H367H368H369H370H371H372H373H374H375H376H377H378H379H380H381H382H383H384H385H386H387H388H389H390H391H392H393H394H395H396H397H398H399H400H401H402H403H404H405H406H407H408H409H410H411H412H413H414H415H416H417H418H419H420H421H422H423H424H425H426H427H428H429H430H431H432H433H434H435H436H437H438H439H440H441H442H443H444H445H446H447H448H449H450H451H452H453H454H455H456H457H458H459H460H461H462H463H464H465H466H467H468H469H470H471H472H473H474H475H476H477H478H479H480H481H482H483H484H485H486H487H488H489H490H491H492H493H494H495H496H497H498H499H500H501H502H503H504H505H506H507H508H509H510H511H512H513H514H515H516H517H518H519H520H521H522H523H524H525H526H527H528H529H530H531H532H533H534H535H536H537H538H539H540H541H542H543H544H545H546H547H548H549H550H551H552H553H554H555H556H557H558H559H560H561H562H563V187H564H565V189.5H566V216.3H567H568H569H570H571V191H572V185.5H573V190.5H574V186.5H575V216.3H576H577H578H579H580H581H582V185H583V190H584V185H585V191.5H586V189H587V216.3H588H589H590H591V191.5H592V185.5H593V187.5H594V216.3H595H596H597H598H599V186H600V188.5H601V185.5H602V216.3H603H604H605H606H607H608V186H609V186.5H610V186H611V190.5H612V216.3H613H614H615H616H617H618H619V188H620V185.5H621V189H622V184.5H623V187.5H624V216.3H625H626H627H628V186H629H630V186.5H631V190.5H632V191.5H633V216.3H634H635H636V186.5H637H638V185.5H639V216.3H640H641H642H643H644H645V187H646V216.3H647H648H649H650H651H652H653H654H655H656H657H658H659H660H661H662H663H664H665H666H667H668H669H670H671H672H673H674H675H676H677H678H679H680H681H682H683H684H685H686H687H688H689H690H691H692H693H694H695H696H697H698H699H700H701H702H703H704H705H706H707H708H709H710H711H712H713H714H715H716H717H718H719H720H721H722H723H724H725H726H727H728H729H730H731H732H733H734H735H736H737V190H738V189H739V187H740V216.3H741H742H743H744H745V187H746V189.5H747V188.5H748H749V185H750V216.3H751H752H753V185H754V187H755V189.5H756V189H757V216.3H758H759H760V186H761V189H762V187H763V216.3H764H765H766V187.5H767V190H768V188.5H769V184H770V216.3H771H772H773H774H775H776H777H778H779H780H781H782H783H784H785H786H787H788H789H790H791H792H793H794H795H796H797H798H799H800H801H802H803H804H805H806H807H808H809H810H811H812H813H814H815H816H817H818H819H820V187H821V189H822V187.5H823V188.5H824V190H825V188.5H826V216.3H827H828H829H830V185.5H831V186H832V187.5H833H834V189.5H835V186.5H836V216.3H837H838H839H840V187H841V189H842V187.5H843V187H844H845V186.5H846V189H847V188H848V186H849V216.3H850H851H852H853V187H854H855H856V189.5H857V186H858V216.3H859H860H861H862V188H863V184.5H864V189H865V186.5H866V185.5H867V185H868V187.5H869V189.5H870V186.5H871V216.3H872H873H874H875V186.5H876V188H877V184.5H878V188.5H879V216.3H880H881H882H883V189H884V187.5H885V186H886V186.5H887V185H888V189H889V189.5H890H891V184.5H892V216.3H893H894H895H896V187H897V186.5H898V184.5H899V185H900V187H901V216.3H902H903H904H905V187H906V187.5H907V188.5H908V186.5H909V186H910V189H911V186.5H912V184.5H913V216.3H914H915H916H917V187.5H918V186H919H920V184.5H921V188H922V186.5H923V216.3H924H925H926H927V189H928V184H929V185H930V187H931V189H932V188.5H933V187.5H934V216.3H935H936H937H938V186H939V185.5H940V187H941V185.5H942H943V216.3H944H945H946H947H948H949H950V186H951V187.5H952V188H953V184.5H954V185H955V186.5H956V216.3H957H958H959H960V187.5H961H962V184.5H963V187.5H964V216.3H965H966H967H968V188H969V187.5H970V187H971V186H972V189.5H973V185H974V187.5H975H976V216.3H977H978V216.3Z" fill="#f0f070"/>
<path d="M130 208.6V208.6H131H132H133H134H135H136H137H138H139H140H141H142H143H144H145H146H147H148H149H150H151H152H153H154H155H156H157H158H159H160H161H162H163H164H165H166H167H168H169H170H171H172H173H174H175H176H177H178H179H180H181H182H183H184H185H186H187H188H189H190H191H192H193H194H195H196H197H198H199H200H201H202H203H204H205H206H207H208H209H210H211H212H213H214H215H216H217H218H219H220H221H222H223H224H225H226H227H228H229H230H231H232H233H234H235H236H237H238H239H240H241H242H243H244H245H246H247H248H249H250H251H252H253H254H255H256H257H258H259H260H261H262H263H264H265H266H267H268H269H270H271H272H273H274H275H276H277H278H279H280H281H282H283H284H285H286H287H288H289H290H291H292H293H294H295H296H297H298H299H300H301H302H303H304H305H306H307H308H309H310H311H312H313H314H315H316H317H318H319H320H321H322H323H324H325H326H327H328H329H330H331H332H333H334H335H336H337H338H339H340H341H342H343H344H345H346H347H348H349H350H351H352H353H354H355H356H357H358H359H360H361H362H363H364H365H366H367H368H369H370H371H372H373H374H375H376H377H378H379H380H381H382H383H384H385H386H387H388H389H390H391H392H393H394H395H396H397H398H399H400H401H402H403H404H405H406H407H408H409H410H411H412H413H414H415H416H417H418H419H420H421H422H423H424H425H426H427H428H429H430H431H432H433H434H435H436H437H438H439H440H441H442H443H444H445H446H447H448H449H450H451H452H453H454H455H456H457H458H459H460H461H462H463H464H465H466H467H468H469H470H471H472H473H474H475H476H477H478H479H480H481H482H483H484H485H486H487H488H489H490H491H492H493H494H495H496H497H498H499H500H501H502H503H504H505H506H507H508H509H510H511H512H513H514H515H516H517H518H519H520H521H522H523H524H525H526H527H528H529H530H531H532H533H534H535H536H537H538H539H540H541H542H543H544H545H546H547H548H549H550H551H552H553H554H555H556H557H558H559H560H561H562H563H564H565H566H567H568H569H570H571H572H573H574H575H576H577H578H579H580H581H582H583H584H585H586H587H588H589H590H591H592H593H594H595H596H597H598H599H600H601H602H603H604H605H606H607H608H609H610H611H612H613H614H615H616H617H618H619H620H621H622H623H624H625H626H627H628H629H630H631H632H633H634H635H636H637H638H639H640H641H642H643H644H645H646H647H648H649H650H651H652H653H654H655H656H657H658H659H660H661H662H663H664H665H666H667H668H669H670H671H672H673H674H675H676H677H678H679H680H681H682H683H684H685H686H687H688H689H690H691H692H693H694H695H696H697H698H699H700H701H702H703H704H705H706H707H708H709H710H711H712H713H714H715H716H717H718H719H720H721H722H723H724H725H726H727H728H729H730H731H732H733H734H735H736H737H738H739H740H741H742H743H744H745H746H747H748H749H750H751H752H753H754H755H756H757H758H759H760H761H762H763H764H765H766H767H768H769H770H771H772H773H774H775H776H777H778H779H780H781H782H783H784H785H786H787H788H789H790H791H792H793H794H795H796H797H798H799H800H801H802H803H804H805H806H807H808H809H810H811H812H813H814H815H816H817H818H819H820V201.5H821V202.5H822V203.5H823V201.5H824V202H825H826V208.6H827H828H829H830V203H831V201.5H832V201H833V203H834V203.5H835V202H836V208.6H837H838H839H840V201.5H841V203.5H842V202H843V203.5H844V201.5H845H846V202H847V201H848V203.5H849V208.6H850H851H852H853V204H854V201H855V203.5H856V202.5H857V201.5H858V208.6H859H860H861H862V202H863V201H864V202.5H865V201H866V201.5H867V203H868V203.5H869H870V202H871V208.6H872H873H874H875V202H876V201H877V204H878V202.5H879V208.6H880H881H882H883V203.5H884H885V201.5H886H887V203H888H889V201.5H890V202H891V203.5H892V208.6H893H894H895H896V202.5H897V203H898V202H899V201H900V204H901V208.6H902H903H904H905V203H906H907V203.5H908V201H909V203.5H910V203H911V201.5H912V203H913V208.6H914H915H916H917V203H918V201.5H919V202.5H920V201.5H921V203H922V202.5H923V208.6H924H925H926H927V203H928V203.5H929H930V202H931H932V203.5H933V202H934V208.6H935H936H937H938V202H939V203.5H940V201H941V204H942H943V208.6H944H945H946H947H948H949H950V203H951V199.5H952H953H954V201H955V200H956V208.6H957H958H959H960V200.5H961V198.5H962V200.5H963V200H964V208.6H965H966H967H968V200H969H970V199.5H971V200.5H972V198.5H973V199.5H974V200H975V199H976V208.6H977H978V208.6Z" fill="#f6cc96"/>
<path d="M130 216.3V216.3H131H132H133H134H135V194.5H136V195.5H137V189H138V194H139V190H140V191.5H141V196H142V216.3H143H144H145H146H147V196H148V188.5H149V193.5H150V191.5H151V193H152V195.5H153V216.3H154H155H156V194H157V189H158V192H159V193H160V216.3H161H162H163H164H165V193.5H166V195.5H167V191.5H168V192H169V190.5H170V189H171V192.5H172V216.3H173H174H175V194H176V193.5H177V195H178V216.3H179H180H181H182H183V191H184V194H185V193H186V192.5H187V190H188V216.3H189H190H191V193.5H192V189H193V190.5H194V216.3H195H196V195H197H198V193.5H199H200V193H201V189H202V194H203V216.3H204H205H206H207H208V192.5H209V192H210V191H211V188H212V190H213V190.5H214V216.3H215H216H217V196.5H218V191.5H219V188H220V193.5H221V188.5H222V193H223V191.5H224V216.3H225H226V192.5H227V193.5H228V194H229V191.5H230V193.5H231V190H232V192H233V216.3H234V192H235V194H236V196H237V195H238V193H239V190.5H240V194H241V194.5H242V192.5H243V195H244V190.5H245V193H246H247V194.5H248V195H249V192H250V191.5H251V192.5H252V193.5H253V195H254H255V194.5H256V191.5H257V193H258V194.5H259V191.5H260V190.5H261V193.5H262V192.5H263V194H264V195.5H265V216.3H266H267V194.5H268V194H269V194.5H270V191H271V195H272V192.5H273V194.5H274V192H275V194H276V191.5H277V192.5H278H279V192H280V191.5H281V192.5H282V194H283H284H285V193.5H286V195H287V216.3H288V192H289V195H290V190H291V193.5H292V192.5H293V194.5H294V191H295V192.5H296V194.5H297V216.3H298V195.5H299V191.5H300V194.5H301V195.5H302V216.3H303H304V196H305V193.5H306V191.5H307V192H308H309H310V191.5H311V192.5H312V216.3H313H314V193.5H315V192.5H316V194H317V193.5H318V192.5H319H320V193.5H321V193H322V192.5H323V195.5H324V190.5H325V192.5H326V195.5H327V216.3H328V194H329V193H330V191.5H331V193H332V194H333V192H334V193.5H335V191.5H336V191H337V192.5H338V216.3H339V192H340V193H341V193.5H342V190.5H343V191.5H344V193.5H345V193H346V195H347H348V190.5H349V191.5H350V194.5H351V193.5H352V193H353H354V216.3H355H356V192.5H357V191H358V216.3H359V194.5H360V192H361V216.3H362H363V194.5H364V195H365V193.5H366V195H367V190.5H368V194.5H369V194H370V216.3H371V195H372V191H373V216.3H374V192.5H375H376V191H377V191.5H378V193H379V216.3H380H381V194.5H382V192H383V194.5H384V195H385V216.3H386V195H387H388V191.5H389V191H390V192.5H391V191.5H392V193H393H394V195H395V216.3H396H397H398H399H400H401H402V191.5H403H404V192H405H406V216.3H407H408H409H410H411H412V192H413V191H414V191.5H415V192.5H416V216.3H417H418H419H420H421H422V193H423V190.5H424V191.5H425H426V216.3H427H428H429H430H431H432V193.5H433V189.5H434V191.5H435V216.3H436H437H438H439H440H441H442V193H443V190H444V190.5H445V216.3H446H447H448H449H450H451V190.5H452V191H453V192.5H454V216.3H455H456H457H458H459H460V191H461V189H462V190H463V216.3H464H465H466H467H468H469H470H471V194H472V191.5H473V193.5H474V190.5H475V216.3H476H477H478H479H480V192H481V190H482V189H483V192.5H484V216.3H485H486H487H488H489V192H490V191H491V190.5H492V216.3H493H494H495H496H497V191H498V189H499V194H500V216.3H501H502H503H504H505H506H507V192H508H509H510V216.3H511H512H513H514H515H516H517H518V193.5H519H520V194.5H521V195.5H522V191.5H523V193.5H524V191.5H525V191H526V195H527H528V192.5H529V192H530V195.5H531V189.5H532V194.5H533V198.5H534V190H535V192H536V195H537V190.5H538V194H539V191H540V192H541H542V197H543V190.5H544V193.5H545V189.5H546V196H547V193.5H548V191.5H549V195H550V197H551V192H552V189H553V192.5H554V196.5H555V195H556V194.5H557V192.5H558V189H559V196.5H560V192H561V191.5H562V188.5H563V216.3H564H565H566V194H567V189H568V191.5H569V190H570V191H571V216.3H572H573H574H575V191.5H576V192.5H577V189H578V192H579V191.5H580V192H581V194.5H582V216.3H583H584H585H586H587V192H588V192.5H589V191.5H590V193.5H591V216.3H592H593H594V192.5H595V193.5H596V189.5H597V190H598V191.5H599V216.3H600H601H602V192.5H603V189.5H604V190.5H605V189H606V193.5H607V195H608V216.3H609H610H611H612V190.5H613V191H614V189.5H615V191H616V190H617V193.5H618V196H619V216.3H620H621H622H623H624V190.5H625V187.5H626V188.5H627V193H628V216.3H629H630H631H632H633V194.5H634V188.5H635V192H636V216.3H637H638H639V189H640V190H641V188H642V190H643V193H644H645V216.3H646H647H648H649V194H650V195H651V216.3H652V193H653V190.5H654H655V191H656V196.5H657V191.5H658V193H659H660V194.5H661V190H662V194H663V190.5H664V193.5H665V194H666V191.5H667V194H668V192H669V192.5H670V196.5H671V193H672V189.5H673V196.5H674V193.5H675V190H676V188H677V190.5H678V192.5H679H680V187.5H681V194.5H682V190.5H683V197.5H684V191.5H685H686V190H687V192.5H688H689V196.5H690V193.5H691H692H693V190.5H694V196H695V191.5H696V216.3H697V196.5H698V193H699V189.5H700H701V196H702V193.5H703V191.5H704V189H705V195H706V194H707V191.5H708V195H709V195.5H710V193H711V194.5H712V191.5H713V197H714V190H715V192.5H716V191.5H717V191H718V193.5H719V191H720V191.5H721V195.5H722V190.5H723V196H724V197H725V193H726V187.5H727V191.5H728V192H729H730V190H731V196H732V192H733V194.5H734V190.5H735V192.5H736H737V216.3H738H739H740V195.5H741V189H742V189.5H743V193H744V190H745V216.3H746H747H748H749H750V195.5H751V187H752V190.5H753V216.3H754H755H756H757V192.5H758V186.5H759V188H760V216.3H761H762H763V192.5H764V193.5H765V192H766V216.3H767H768H769H770V190H771V194.5H772V190.5H773V194H774H775V194.5H776V195H777V193.5H778V192H779V191.5H780V191H781V193H782V192H783V194.5H784V193H785V192H786V195H787V193H788V191.5H789V196H790V192.5H791V190.5H792V192.5H793V194.5H794V192.5H795V195H796V193H797V192.5H798V194H799V193H800V190.5H801V194H802V194.5H803V193.5H804V194H805V194.5H806V190.5H807V194H808V193.5H809V196H810V195H811H812V191H813V194H814V193H815V193.5H816V194H817V193.5H818V192H819H820V216.3H821H822H823H824H825H826V190.5H827V189H828V190H829V191H830V216.3H831H832H833H834H835H836V193H837V191.5H838H839V192H840V216.3H841H842H843H844H845H846H847H848H849V192H850V189H851V189.5H852V191.5H853V216.3H854H855H856H857H858V191H859V190H860H861V191H862V216.3H863H864H865H866H867H868H869H870H871V191.5H872V189.5H873V189H874V190.5H875V216.3H876H877H878H879V192.5H880V190H881V191.5H882V190.5H883V216.3H884H885H886H887H888H889H890H891H892V190.5H893V191.5H894V191H895V193H896V216.3H897H898H899H900H901V191H902V190.5H903V191.5H904V190.5H905V216.3H906H907H908H909H910H911H912H913V192.5H914V189H915V190H916V191H917V216.3H918H919H920H921H922H923V191H924V190H925V191H926V191.5H927V216.3H928H929H930H931H932H933H934V192.5H935V191.5H936V190.5H937H938V216.3H939H940H941H942H943V191H944V191.5H945V189H946V193H947V190.5H948V189H949V191H950V216.3H951H952H953H954H955H956V191.5H957V189H958H959V190.5H960V216.3H961H962H963H964V191H965H966V189.5H967V190.5H968V216.3H969H970H971H972H973H974H975H976V190.5H977V191H978V216.3Z" fill="#a86af0"/>
<path d="M131 160.2h1v2.1h-1zM132 159.9h1v1.8h-1zM133 159.3h1v1.9h-1zM134 159.8h1v2.1h-1zM137 159.1h1v2.1h-1zM138 159.8h1v2.1h-1zM139 160.0h1v1.6h-1zM140 159.5h1v1.5h-1zM141 159.8h1v1.5h-1zM142 159.8h1v1.9h-1zM143 159.8h1v1.8h-1zM144 159.5h1v1.8h-1zM145 159.6h1v1.6h-1zM147 160.3h1v2.0h-1zM148 159.6h1v1.2h-1zM149 159.6h1v1.7h-1zM150 159.6h1v1.3h-1zM151 159.7h1v1.8h-1zM152 159.5h1v2.2h-1zM153 159.6h1v2.1h-1zM154 160.1h1v1.3h-1zM155 159.8h1v1.7h-1zM157 159.4h1v1.6h-1zM158 159.2h1v1.4h-1zM159 160.2h1v2.0h-1zM160 159.9h1v1.7h-1zM161 160.0h1v2.1h-1zM162 159.1h1v1.2h-1zM164 159.2h1v1.2h-1zM165 159.2h1v1.5h-1zM166 159.4h1v1.8h-1zM167 160.1h1v1.9h-1zM169 160.3h1v1.6h-1zM171 160.1h1v2.0h-1zM172 159.9h1v2.2h-1zM173 159.6h1v1.4h-1zM174 159.7h1v1.2h-1zM175 159.4h1v2.0h-1zM176 159.2h1v1.9h-1zM177 160.1h1v1.4h-1zM178 159.1h1v2.0h-1zM180 159.0h1v1.2h-1zM181 160.1h1v1.9h-1zM182 159.2h1v2.1h-1zM183 159.1h1v1.5h-1zM184 160.1h1v1.3h-1zM185 160.3h1v1.4h-1zM186 160.2h1v1.6h-1zM187 159.9h1v1.6h-1zM188 159.5h1v2.0h-1zM189 159.3h1v1.3h-1zM190 159.3h1v2.2h-1zM191 159.7h1v1.9h-1zM192 159.5h1v1.6h-1zM193 160.3h1v1.4h-1zM194 159.2h1v2.0h-1zM196 159.6h1v1.7h-1zM198 159.9h1v1.6h-1zM199 159.5h1v1.5h-1zM200 160.0h1v1.5h-1zM201 159.3h1v1.7h-1zM203 160.1h1v2.1h-1zM204 159.1h1v2.1h-1zM206 160.1h1v1.7h-1zM207 159.7h1v2.2h-1zM208 159.4h1v1.8h-1zM210 160.0h1v1.2h-1zM212 160.0h1v2.0h-1zM213 159.2h1v2.0h-1zM214 160.1h1v1.3h-1zM215 159.5h1v1.4h-1zM216 160.2h1v1.6h-1zM217 160.1h1v2.2h-1zM218 159.6h1v1.8h-1zM219 159.6h1v1.9h-1zM220 159.3h1v1.6h-1zM221 159.0h1v1.7h-1zM223 159.0h1v1.5h-1zM226 159.5h1v1.9h-1zM227 160.1h1v1.7h-1zM228 160.1h1v1.2h-1zM229 159.3h1v1.9h-1zM230 159.8h1v1.2h-1zM231 159.1h1v1.2h-1zM232 159.9h1v2.1h-1zM233 160.3h1v2.2h-1zM234 160.0h1v1.6h-1zM236 159.4h1v1.4h-1zM237 160.3h1v1.9h-1zM238 159.6h1v1.7h-1zM239 159.8h1v1.7h-1zM240 160.3h1v2.2h-1zM241 159.3h1v1.5h-1zM242 159.5h1v2.0h-1zM243 160.3h1v1.9h-1zM244 159.5h1v1.6h-1zM245 160.0h1v1.6h-1zM246 160.0h1v1.9h-1zM247 159.4h1v1.3h-1zM249 159.0h1v1.7h-1zM250 159.2h1v1.6h-1zM251 159.9h1v1.6h-1zM252 159.5h1v1.6h-1zM254 160.0h1v1.8h-1zM255 159.4h1v2.2h-1zM257 159.5h1v1.4h-1zM259 159.0h1v2.2h-1zM260 160.0h1v1.4h-1zM261 159.2h1v1.9h-1zM263 159.6h1v1.7h-1zM265 159.2h1v2.1h-1zM266 159.6h1v2.2h-1zM267 160.0h1v1.6h-1zM269 159.3h1v2.0h-1zM271 159.2h1v1.3h-1zM272 159.2h1v1.5h-1zM274 159.4h1v2.1h-1zM276 159.8h1v1.3h-1zM277 159.4h1v1.5h-1zM278 160.2h1v2.2h-1zM281 160.1h1v1.3h-1zM282 159.5h1v1.6h-1zM283 159.2h1v1.2h-1zM284 159.3h1v1.7h-1zM285 159.2h1v2.2h-1zM286 159.9h1v1.5h-1zM287 159.8h1v1.9h-1zM288 159.2h1v1.9h-1zM289 160.1h1v2.2h-1zM290 159.8h1v1.5h-1zM291 159.3h1v1.8h-1zM292 159.8h1v1.3h-1zM293 160.1h1v1.3h-1zM294 160.2h1v1.6h-1zM295 159.6h1v1.2h-1zM296 159.8h1v2.0h-1zM297 159.4h1v2.1h-1zM298 159.1h1v1.7h-1zM299 159.6h1v1.4h-1zM300 159.2h1v2.0h-1zM302 159.7h1v1.7h-1zM303 159.6h1v1.4h-1zM304 159.3h1v2.1h-1zM305 159.1h1v1.4h-1zM306 159.8h1v2.2h-1zM307 159.9h1v1.5h-1zM309 160.1h1v1.9h-1zM310 159.8h1v1.3h-1zM311 159.9h1v1.4h-1zM312 159.6h1v1.8h-1zM313 159.4h1v2.2h-1zM314 159.7h1v1.7h-1zM315 159.0h1v1.3h-1zM316 159.4h1v1.5h-1zM317 159.1h1v1.5h-1zM318 160.1h1v2.2h-1zM319 159.3h1v2.0h-1zM320 159.5h1v2.1h-1zM321 159.9h1v1.7h-1zM322 159.4h1v1.7h-1zM323 159.6h1v1.7h-1zM324 159.6h1v1.3h-1zM325 159.4h1v1.7h-1zM326 160.0h1v1.9h-1zM327 159.5h1v1.3h-1zM328 160.3h1v1.2h-1zM329 159.7h1v1.5h-1zM330 159.1h1v2.0h-1zM331 159.0h1v1.7h-1zM332 160.3h1v1.8h-1zM334 159.6h1v1.4h-1zM335 159.1h1v1.4h-1zM336 159.6h1v1.2h-1zM337 159.5h1v1.5h-1zM338 159.5h1v1.7h-1zM339 159.6h1v1.6h-1zM340 159.6h1v2.2h-1zM341 159.9h1v2.0h-1zM342 159.8h1v1.9h-1zM343 159.0h1v2.1h-1zM344 159.1h1v1.8h-1zM345 159.4h1v1.8h-1zM346 160.1h1v1.6h-1zM347 159.6h1v1.6h-1zM348 159.3h1v1.6h-1zM349 159.7h1v1.7h-1zM350 160.0h1v1.4h-1zM352 159.6h1v1.8h-1zM353 159.1h1v1.7h-1zM354 159.1h1v2.1h-1zM356 159.3h1v1.9h-1zM357 159.4h1v1.7h-1zM358 159.6h1v1.4h-1zM361 160.2h1v1.4h-1zM362 159.7h1v1.5h-1zM363 159.1h1v2.1h-1zM364 160.3h1v1.7h-1zM365 160.0h1v2.0h-1zM366 159.6h1v1.8h-1zM367 159.4h1v1.5h-1zM368 159.5h1v1.7h-1zM369 159.7h1v2.0h-1zM370 160.1h1v2.1h-1zM371 159.3h1v2.2h-1zM372 160.1h1v1.4h-1zM373 159.2h1v1.5h-1zM374 159.2h1v1.7h-1zM375 159.3h1v1.7h-1zM376 159.7h1v1.3h-1zM379 159.5h1v1.6h-1zM380 159.8h1v2.0h-1zM381 159.4h1v1.2h-1zM382 159.0h1v1.3h-1zM385 159.6h1v2.0h-1zM386 160.3h1v1.8h-1zM387 159.5h1v2.1h-1zM388 160.2h1v1.4h-1zM389 159.3h1v1.4h-1zM390 159.6h1v2.0h-1zM391 159.3h1v1.5h-1zM392 159.2h1v1.6h-1zM393 160.0h1v2.0h-1zM394 159.1h1v2.2h-1zM395 159.9h1v2.0h-1zM396 160.0h1v1.2h-1zM397 159.6h1v2.1h-1zM398 160.3h1v1.3h-1zM399 159.4h1v1.6h-1zM400 160.2h1v1.8h-1zM401 159.1h1v2.0h-1zM402 159.3h1v1.6h-1zM404 159.4h1v1.4h-1zM405 160.1h1v1.7h-1zM406 159.2h1v1.4h-1zM407 160.3h1v1.2h-1zM408 159.3h1v1.5h-1zM409 159.5h1v1.8h-1zM410 159.6h1v2.1h-1zM411 159.7h1v1.4h-1zM412 159.3h1v1.6h-1zM413 160.1h1v1.5h-1zM415 160.0h1v2.1h-1zM416 159.6h1v1.5h-1zM417 159.1h1v1.2h-1zM419 159.1h1v1.6h-1zM420 160.3h1v1.2h-1zM421 159.1h1v1.5h-1zM422 159.4h1v2.0h-1zM423 159.9h1v1.6h-1zM425 159.7h1v2.0h-1zM426 160.0h1v1.5h-1zM428 160.2h1v1.8h-1zM429 159.1h1v1.4h-1zM430 159.2h1v1.6h-1zM431 159.4h1v1.4h-1zM432 159.3h1v1.5h-1zM433 159.2h1v1.4h-1zM434 160.3h1v1.7h-1zM435 159.1h1v1.6h-1zM437 159.7h1v1.8h-1zM438 159.8h1v1.5h-1zM439 159.1h1v1.4h-1zM440 160.3h1v1.8h-1zM441 159.8h1v1.6h-1zM442 160.2h1v1.6h-1zM443 159.7h1v1.2h-1zM444 159.7h1v1.6h-1zM445 159.9h1v1.7h-1zM446 159.2h1v1.6h-1zM447 159.5h1v1.6h-1zM448 159.6h1v1.9h-1zM449 159.4h1v1.7h-1zM450 159.3h1v1.3h-1zM452 159.2h1v1.7h-1zM453 159.4h1v2.1h-1zM454 159.1h1v2.0h-1zM455 159.9h1v1.4h-1zM456 160.2h1v1.6h-1zM457 160.2h1v1.4h-1zM460 159.7h1v1.5h-1zM463 159.7h1v1.7h-1zM464 159.8h1v1.3h-1zM466 159.0h1v1.6h-1zM467 159.2h1v1.7h-1zM468 159.1h1v2.1h-1zM469 160.3h1v1.2h-1zM470 160.1h1v1.7h-1zM472 159.1h1v1.4h-1zM473 159.4h1v1.8h-1zM474 159.4h1v1.5h-1zM476 159.3h1v1.2h-1zM477 160.0h1v2.0h-1zM478 159.4h1v1.4h-1zM479 159.9h1v1.9h-1zM480 159.3h1v1.3h-1zM482 160.2h1v1.4h-1zM483 159.6h1v2.0h-1zM485 159.7h1v1.8h-1zM486 159.4h1v1.4h-1zM487 159.7h1v2.1h-1zM488 159.5h1v1.4h-1zM489 159.1h1v1.6h-1zM491 160.1h1v1.2h-1zM493 159.9h1v1.3h-1zM496 159.4h1v1.5h-1zM497 159.6h1v1.6h-1zM498 159.8h1v1.7h-1zM499 159.2h1v1.9h-1zM500 160.2h1v1.4h-1zM501 159.9h1v1.4h-1zM502 159.0h1v1.3h-1zM504 159.1h1v1.3h-1zM505 159.5h1v2.0h-1zM506 159.1h1v1.4h-1zM507 159.8h1v2.1h-1zM508 159.5h1v1.9h-1zM509 160.2h1v2.1h-1zM510 159.2h1v1.9h-1zM511 159.9h1v1.5h-1zM512 160.1h1v2.0h-1zM513 159.9h1v2.0h-1zM514 159.3h1v2.0h-1zM515 159.1h1v1.8h-1zM516 159.1h1v2.1h-1zM517 160.1h1v2.0h-1zM518 159.2h1v1.8h-1zM520 159.3h1v2.1h-1zM521 159.6h1v1.2h-1zM522 159.0h1v1.6h-1zM523 159.2h1v1.7h-1zM524 160.0h1v2.2h-1zM525 159.6h1v2.0h-1zM526 159.5h1v1.6h-1zM527 159.4h1v1.5h-1zM528 159.0h1v2.0h-1zM529 160.2h1v2.0h-1zM530 159.2h1v1.9h-1zM531 159.6h1v1.4h-1zM532 160.3h1v1.4h-1zM533 159.3h1v1.9h-1zM534 160.2h1v2.1h-1zM535 160.3h1v2.2h-1zM536 159.8h1v1.7h-1zM537 159.7h1v1.5h-1zM538 159.5h1v1.5h-1zM539 159.3h1v1.4h-1zM540 159.5h1v2.0h-1zM541 159.7h1v2.1h-1zM542 159.1h1v2.1h-1zM543 159.3h1v1.3h-1zM544 159.9h1v1.7h-1zM545 159.2h1v2.0h-1zM546 160.2h1v1.6h-1zM547 159.2h1v1.5h-1zM548 159.8h1v1.8h-1zM549 160.0h1v2.0h-1zM550 159.2h1v2.2h-1zM552 159.4h1v1.7h-1zM553 159.7h1v1.7h-1zM554 160.2h1v1.7h-1zM555 159.3h1v2.0h-1zM556 160.1h1v2.2h-1zM557 159.3h1v1.2h-1zM558 159.5h1v1.7h-1zM559 159.8h1v2.0h-1zM560 159.0h1v2.0h-1zM561 159.8h1v1.2h-1zM562 159.5h1v1.2h-1zM563 160.0h1v1.5h-1zM567 160.2h1v1.7h-1zM568 159.2h1v1.5h-1zM569 159.3h1v2.0h-1zM570 159.2h1v2.1h-1zM572 159.1h1v1.3h-1zM574 159.4h1v1.2h-1zM575 159.9h1v2.1h-1zM576 159.0h1v2.2h-1zM577 159.5h1v1.2h-1zM579 159.4h1v1.9h-1zM580 159.6h1v2.2h-1zM582 159.6h1v2.1h-1zM583 159.8h1v1.8h-1zM585 159.1h1v2.1h-1zM587 160.1h1v1.6h-1zM588 159.6h1v1.6h-1zM589 159.4h1v1.5h-1zM590 159.6h1v1.7h-1zM591 160.2h1v2.2h-1zM593 159.0h1v1.8h-1zM595 159.8h1v1.6h-1zM596 159.3h1v1.6h-1zM597 159.4h1v1.5h-1zM598 159.4h1v1.2h-1zM599 159.9h1v1.8h-1zM600 160.2h1v1.3h-1zM601 159.8h1v1.5h-1zM602 159.6h1v2.1h-1zM604 159.9h1v1.4h-1zM607 159.6h1v2.0h-1zM608 159.4h1v1.3h-1zM609 160.0h1v1.2h-1zM610 159.1h1v1.2h-1zM611 159.5h1v1.4h-1zM612 159.8h1v2.1h-1zM613 159.2h1v1.3h-1zM614 159.1h1v2.0h-1zM615 159.4h1v1.2h-1zM616 159.9h1v1.3h-1zM617 159.4h1v1.9h-1zM618 159.3h1v1.3h-1zM619 160.1h1v2.1h-1zM620 160.2h1v1.4h-1zM621 160.2h1v2.0h-1zM624 159.9h1v1.5h-1zM625 160.1h1v2.1h-1zM626 160.0h1v1.6h-1zM627 160.0h1v2.2h-1zM629 159.1h1v2.2h-1zM630 159.3h1v1.6h-1zM631 159.0h1v1.3h-1zM632 159.1h1v2.0h-1zM633 160.2h1v1.5h-1zM635 159.6h1v1.5h-1zM636 159.1h1v1.6h-1zM637 160.2h1v1.9h-1zM638 159.8h1v1.9h-1zM639 159.6h1v2.1h-1zM640 159.9h1v2.1h-1zM641 160.0h1v2.2h-1zM642 159.1h1v1.3h-1zM643 159.5h1v1.4h-1zM644 159.1h1v1.3h-1zM645 159.3h1v1.7h-1zM646 160.3h1v1.8h-1zM647 159.9h1v1.8h-1zM648 159.3h1v1.6h-1zM649 159.0h1v2.1h-1zM650 160.0h1v1.2h-1zM651 159.7h1v2.0h-1zM652 159.2h1v1.3h-1zM653 160.2h1v1.8h-1zM654 159.1h1v1.9h-1zM655 160.0h1v1.4h-1zM656 160.0h1v1.8h-1zM657 160.0h1v1.8h-1zM658 159.4h1v1.7h-1zM659 160.2h1v1.5h-1zM660 160.2h1v1.8h-1zM661 160.1h1v2.2h-1zM662 160.0h1v1.2h-1zM663 160.1h1v2.0h-1zM664 159.4h1v2.0h-1zM665 159.5h1v1.4h-1zM666 159.1h1v2.0h-1zM667 159.7h1v1.3h-1zM668 159.1h1v1.7h-1zM669 159.1h1v1.3h-1zM670 159.8h1v1.6h-1zM671 160.1h1v1.8h-1zM672 159.1h1v1.5h-1zM673 159.2h1v1.6h-1zM674 159.2h1v2.0h-1zM676 160.2h1v1.3h-1zM677 159.4h1v2.1h-1zM678 159.1h1v1.6h-1zM679 159.1h1v1.9h-1zM680 160.2h1v1.5h-1zM681 159.9h1v1.6h-1zM683 160.2h1v1.4h-1zM684 159.3h1v1.7h-1zM685 160.1h1v1.4h-1zM686 159.4h1v1.4h-1zM687 159.4h1v1.4h-1zM688 159.4h1v1.9h-1zM689 159.8h1v1.5h-1zM690 160.3h1v2.1h-1zM692 160.2h1v1.8h-1zM693 160.2h1v1.4h-1zM694 159.9h1v1.2h-1zM696 159.2h1v1.9h-1zM698 160.1h1v1.7h-1zM699 160.3h1v1.4h-1zM700 159.8h1v2.1h-1zM702 159.3h1v1.7h-1zM703 159.1h1v2.2h-1zM704 159.6h1v1.6h-1zM705 159.7h1v2.2h-1zM707 160.0h1v1.8h-1zM708 159.7h1v1.4h-1zM709 160.3h1v1.4h-1zM710 159.3h1v1.9h-1zM711 159.1h1v1.9h-1zM712 160.3h1v1.4h-1zM713 159.7h1v2.2h-1zM715 159.1h1v1.2h-1zM716 160.2h1v2.2h-1zM717 159.3h1v1.9h-1zM718 159.6h1v2.2h-1zM719 159.8h1v2.0h-1zM720 160.3h1v2.2h-1zM721 159.2h1v1.4h-1zM722 159.3h1v1.9h-1zM723 159.2h1v2.1h-1zM724 159.8h1v1.4h-1zM725 159.2h1v1.3h-1zM726 159.6h1v1.3h-1zM727 160.3h1v2.0h-1zM728 160.0h1v2.2h-1zM729 159.9h1v1.7h-1zM730 160.1h1v1.2h-1zM731 159.4h1v2.1h-1zM734 159.5h1v1.7h-1zM736 160.2h1v1.4h-1zM737 159.7h1v1.3h-1zM738 159.7h1v1.9h-1zM739 159.1h1v1.6h-1zM740 159.5h1v2.2h-1zM741 159.1h1v1.8h-1zM742 159.5h1v1.3h-1zM743 160.2h1v1.5h-1zM744 159.9h1v1.6h-1zM745 159.8h1v1.8h-1zM746 159.3h1v1.7h-1zM747 159.8h1v1.6h-1zM748 159.3h1v2.0h-1zM749 160.3h1v1.6h-1zM750 159.4h1v1.3h-1zM751 160.2h1v2.1h-1zM752 159.1h1v1.9h-1zM754 159.9h1v1.5h-1zM755 160.0h1v1.3h-1zM756 159.2h1v1.9h-1zM757 160.2h1v1.6h-1zM758 159.9h1v2.1h-1zM759 159.9h1v1.8h-1zM760 159.1h1v1.4h-1zM762 159.9h1v1.5h-1zM763 159.1h1v1.9h-1zM764 159.7h1v1.9h-1zM765 159.1h1v1.6h-1zM766 159.7h1v1.3h-1zM767 159.9h1v1.3h-1zM768 159.8h1v2.1h-1zM769 159.5h1v1.9h-1zM770 159.6h1v1.8h-1zM771 159.6h1v1.5h-1zM772 160.2h1v1.6h-1zM773 159.5h1v1.3h-1zM774 159.2h1v2.1h-1zM775 159.8h1v1.7h-1zM777 160.2h1v1.9h-1zM778 159.1h1v1.8h-1zM779 159.2h1v1.7h-1zM780 159.3h1v1.3h-1zM781 159.1h1v2.1h-1zM782 159.5h1v1.6h-1zM783 159.8h1v1.4h-1zM785 159.2h1v1.8h-1zM786 159.4h1v1.8h-1zM787 159.5h1v1.7h-1zM788 159.0h1v1.9h-1zM789 160.0h1v1.3h-1zM791 160.1h1v2.0h-1zM792 159.7h1v2.2h-1zM794 159.3h1v1.5h-1zM795 159.0h1v2.0h-1zM796 160.2h1v1.4h-1zM798 160.1h1v2.1h-1zM799 159.8h1v1.8h-1zM800 159.7h1v1.5h-1zM801 160.3h1v1.3h-1zM802 159.8h1v1.7h-1zM803 159.4h1v2.0h-1zM804 159.6h1v1.5h-1zM805 159.2h1v1.7h-1zM807 159.0h1v1.8h-1zM808 159.3h1v1.4h-1zM809 159.4h1v1.6h-1zM810 160.3h1v1.8h-1zM811 159.9h1v1.8h-1zM812 159.3h1v1.8h-1zM813 159.4h1v1.7h-1zM816 159.4h1v1.4h-1zM817 159.1h1v1.9h-1zM818 159.4h1v1.3h-1zM819 159.2h1v1.5h-1zM821 160.0h1v1.6h-1zM823 159.8h1v1.9h-1zM824 159.8h1v2.1h-1zM825 160.2h1v1.2h-1zM826 160.3h1v2.1h-1zM827 159.0h1v1.5h-1zM828 159.6h1v1.7h-1zM829 159.2h1v1.7h-1zM830 159.8h1v1.9h-1zM831 159.4h1v1.4h-1zM832 159.6h1v1.7h-1zM833 159.2h1v1.9h-1zM834 159.2h1v1.8h-1zM835 160.1h1v1.8h-1zM836 159.8h1v1.9h-1zM837 159.0h1v1.8h-1zM839 160.2h1v1.5h-1zM840 160.3h1v2.1h-1zM841 159.0h1v1.2h-1zM842 159.0h1v1.6h-1zM844 159.8h1v1.9h-1zM845 159.5h1v1.7h-1zM847 160.1h1v1.2h-1zM848 159.4h1v1.4h-1zM849 159.2h1v1.5h-1zM850 159.3h1v1.9h-1zM851 159.6h1v1.8h-1zM852 159.7h1v1.3h-1zM853 159.4h1v1.8h-1zM854 160.0h1v1.7h-1zM855 159.9h1v1.4h-1zM858 159.4h1v1.9h-1zM860 159.2h1v2.1h-1zM861 159.5h1v1.8h-1zM862 159.4h1v1.3h-1zM863 160.1h1v1.5h-1zM864 160.1h1v1.2h-1zM865 159.7h1v1.6h-1zM866 159.5h1v1.5h-1zM867 159.2h1v1.6h-1zM868 159.8h1v2.0h-1zM869 160.0h1v2.0h-1zM870 159.8h1v1.3h-1zM871 159.3h1v1.8h-1zM872 159.6h1v1.4h-1zM873 159.1h1v1.2h-1zM874 159.7h1v1.8h-1zM876 160.2h1v2.0h-1zM877 159.8h1v1.9h-1zM878 159.9h1v2.0h-1zM879 160.3h1v1.9h-1zM880 159.3h1v1.7h-1zM881 159.1h1v1.6h-1zM882 160.1h1v1.3h-1zM883 159.1h1v1.4h-1zM884 159.6h1v2.2h-1zM885 160.0h1v1.5h-1zM886 159.9h1v1.8h-1zM888 159.3h1v2.2h-1zM889 159.4h1v1.9h-1zM890 159.8h1v2.0h-1zM891 159.4h1v1.2h-1zM892 160.0h1v1.4h-1zM896 159.1h1v1.8h-1zM897 160.0h1v1.5h-1zM899 159.7h1v1.6h-1zM900 159.5h1v2.0h-1zM901 160.2h1v1.7h-1zM903 159.6h1v1.8h-1zM904 159.7h1v1.5h-1zM905 159.5h1v1.5h-1zM906 160.1h1v1.2h-1zM907 159.4h1v1.6h-1zM908 159.6h1v1.4h-1zM909 159.8h1v1.4h-1zM910 159.1h1v1.8h-1zM911 159.9h1v1.6h-1zM912 159.0h1v1.6h-1zM913 159.9h1v1.4h-1zM914 159.1h1v1.3h-1zM916 159.6h1v2.2h-1zM917 159.8h1v1.5h-1zM919 159.5h1v1.8h-1zM920 160.1h1v1.8h-1zM921 159.7h1v1.6h-1zM922 159.4h1v2.0h-1zM923 159.0h1v2.0h-1zM924 160.1h1v1.3h-1zM926 159.8h1v1.7h-1zM927 160.0h1v2.1h-1zM928 159.6h1v2.0h-1zM929 159.4h1v1.5h-1zM930 159.4h1v1.5h-1zM931 160.2h1v1.6h-1zM934 159.4h1v2.0h-1zM935 159.2h1v1.3h-1zM936 160.3h1v1.4h-1zM937 159.7h1v1.5h-1zM939 159.7h1v1.7h-1zM941 159.4h1v2.0h-1zM942 159.3h1v2.1h-1zM943 159.1h1v2.0h-1zM944 160.0h1v1.6h-1zM945 159.3h1v1.7h-1zM946 159.6h1v1.3h-1zM949 159.4h1v1.8h-1zM950 160.0h1v2.0h-1zM951 159.5h1v2.1h-1zM952 159.6h1v1.9h-1zM953 159.0h1v1.2h-1zM954 159.5h1v1.4h-1zM955 159.2h1v1.8h-1zM956 159.4h1v1.6h-1zM957 159.8h1v1.5h-1zM959 159.8h1v1.7h-1zM960 159.7h1v1.2h-1zM961 160.0h1v2.1h-1zM962 159.6h1v1.3h-1zM963 159.2h1v1.4h-1zM964 159.1h1v1.5h-1zM965 159.1h1v1.2h-1zM966 159.9h1v1.5h-1zM967 159.9h1v2.1h-1zM968 159.5h1v1.4h-1zM969 159.2h1v1.3h-1zM971 159.7h1v1.2h-1zM972 159.5h1v1.2h-1zM973 159.3h1v1.8h-1zM974 160.0h1v1.3h-1zM975 159.0h1v1.2h-1zM976 159.4h1v2.1h-1z" fill="#1e1eb4"/>
<path d="M130 194.2H978M130 196.7H978M130 199.2H978M130 201.7H978M130 204.2H978M130 206.7H978" stroke="#fff" stroke-opacity="0.16" stroke-width="1" fill="none"/>
<path d="M176.0 168L181.0 168L179.0 175.5L178.0 175.5ZM218.8 168L223.8 168L221.8 175.5L220.8 175.5ZM261.6 168L266.6 168L264.6 175.5L263.6 175.5ZM304.4 168L309.4 168L307.4 175.5L306.4 175.5ZM347.2 168L352.2 168L350.2 175.5L349.2 175.5ZM390.0 168L395.0 168L393.0 175.5L392.0 175.5ZM432.8 168L437.8 168L435.8 175.5L434.8 175.5ZM475.6 168L480.6 168L478.6 175.5L477.6 175.5ZM518.4 168L523.4 168L521.4 175.5L520.4 175.5ZM561.2 168L566.2 168L564.2 175.5L563.2 175.5Z" fill="#2adcc8"/>
<path d="M176.5 163.5L180.5 163.5L178.5 171ZM219.3 163.5L223.3 163.5L221.3 171ZM262.1 163.5L266.1 163.5L264.1 171ZM304.9 163.5L308.9 163.5L306.9 171ZM347.7 163.5L351.7 163.5L349.7 171ZM390.5 163.5L394.5 163.5L392.5 171ZM433.3 163.5L437.3 163.5L435.3 171ZM476.1 163.5L480.1 163.5L478.1 171ZM518.9 163.5L522.9 163.5L520.9 171ZM561.7 163.5L565.7 163.5L563.7 171Z" fill="#50b8f2"/>
<rect x="130" y="209.5" width="848" height="3.5" fill="#b8b8f6"/>
<rect x="130" y="213" width="848" height="3.3" fill="#8c8cee"/>
<path d="M131 209.5h1v4.9h-1zM134 209.5h1v4.8h-1zM142 209.5h1v4.9h-1zM143 209.5h1v5.1h-1zM144 209.5h1v5.3h-1zM153 209.5h1v4.2h-1zM154 209.5h1v3.7h-1zM155 209.5h1v3.5h-1zM161 209.5h1v5.3h-1zM162 209.5h1v5.1h-1zM163 209.5h1v5.5h-1zM164 209.5h1v4.6h-1zM172 209.5h1v5.5h-1zM173 209.5h1v3.9h-1zM178 209.5h1v4.8h-1zM181 209.5h1v4.0h-1zM190 209.5h1v3.7h-1zM203 209.5h1v3.9h-1zM204 209.5h1v4.5h-1zM205 209.5h1v4.3h-1zM206 209.5h1v4.9h-1zM224 209.5h1v4.9h-1zM233 209.5h1v4.7h-1zM327 209.5h1v5.1h-1zM370 209.5h1v5.2h-1zM396 209.5h1v5.5h-1zM397 209.5h1v4.3h-1zM398 209.5h1v4.5h-1zM399 209.5h1v3.5h-1zM400 209.5h1v3.7h-1zM401 209.5h1v5.4h-1zM406 209.5h1v4.4h-1zM408 209.5h1v4.8h-1zM416 209.5h1v3.7h-1zM419 209.5h1v4.2h-1zM420 209.5h1v5.0h-1zM426 209.5h1v4.3h-1zM428 209.5h1v5.2h-1zM429 209.5h1v4.6h-1zM430 209.5h1v4.8h-1zM431 209.5h1v4.5h-1zM436 209.5h1v5.2h-1zM437 209.5h1v5.2h-1zM439 209.5h1v4.3h-1zM447 209.5h1v4.7h-1zM448 209.5h1v4.6h-1zM449 209.5h1v3.6h-1zM455 209.5h1v5.4h-1zM456 209.5h1v4.0h-1zM458 209.5h1v4.8h-1zM459 209.5h1v4.0h-1zM465 209.5h1v5.0h-1zM468 209.5h1v5.1h-1zM469 209.5h1v4.5h-1zM470 209.5h1v5.2h-1zM475 209.5h1v4.3h-1zM478 209.5h1v3.7h-1zM484 209.5h1v4.8h-1zM485 209.5h1v3.7h-1zM486 209.5h1v4.7h-1zM487 209.5h1v5.0h-1zM488 209.5h1v4.2h-1zM492 209.5h1v5.5h-1zM493 209.5h1v4.4h-1zM494 209.5h1v4.7h-1zM495 209.5h1v5.2h-1zM496 209.5h1v5.0h-1zM502 209.5h1v4.1h-1zM503 209.5h1v5.5h-1zM505 209.5h1v3.7h-1zM506 209.5h1v3.8h-1zM512 209.5h1v4.1h-1zM515 209.5h1v4.6h-1zM516 209.5h1v5.2h-1zM563 209.5h1v5.0h-1zM564 209.5h1v5.5h-1zM571 209.5h1v4.7h-1zM572 209.5h1v4.0h-1zM573 209.5h1v3.6h-1zM574 209.5h1v5.1h-1zM584 209.5h1v3.9h-1zM585 209.5h1v4.2h-1zM591 209.5h1v3.9h-1zM599 209.5h1v4.4h-1zM600 209.5h1v4.8h-1zM608 209.5h1v4.0h-1zM610 209.5h1v4.9h-1zM611 209.5h1v4.8h-1zM619 209.5h1v5.0h-1zM621 209.5h1v4.7h-1zM622 209.5h1v3.8h-1zM628 209.5h1v5.4h-1zM629 209.5h1v5.0h-1zM630 209.5h1v4.7h-1zM631 209.5h1v4.6h-1zM636 209.5h1v5.0h-1zM646 209.5h1v5.0h-1zM647 209.5h1v3.9h-1zM745 209.5h1v4.3h-1zM747 209.5h1v4.1h-1zM749 209.5h1v5.2h-1zM753 209.5h1v5.2h-1zM754 209.5h1v5.4h-1zM756 209.5h1v4.2h-1zM760 209.5h1v5.4h-1zM761 209.5h1v5.0h-1zM767 209.5h1v5.3h-1zM769 209.5h1v4.0h-1zM820 209.5h1v4.7h-1zM821 209.5h1v4.1h-1zM823 209.5h1v5.2h-1zM824 209.5h1v4.0h-1zM830 209.5h1v5.4h-1zM831 209.5h1v4.6h-1zM833 209.5h1v4.1h-1zM834 209.5h1v4.4h-1zM842 209.5h1v5.1h-1zM843 209.5h1v5.2h-1zM844 209.5h1v5.2h-1zM845 209.5h1v4.5h-1zM847 209.5h1v3.8h-1zM848 209.5h1v4.5h-1zM853 209.5h1v5.2h-1zM863 209.5h1v4.0h-1zM865 209.5h1v4.2h-1zM867 209.5h1v4.6h-1zM869 209.5h1v5.2h-1zM875 209.5h1v3.8h-1zM876 209.5h1v5.1h-1zM877 209.5h1v4.1h-1zM878 209.5h1v3.6h-1zM883 209.5h1v5.3h-1zM884 209.5h1v4.0h-1zM885 209.5h1v5.0h-1zM887 209.5h1v5.2h-1zM888 209.5h1v5.0h-1zM889 209.5h1v5.4h-1zM890 209.5h1v4.9h-1zM896 209.5h1v5.0h-1zM898 209.5h1v4.2h-1zM905 209.5h1v5.0h-1zM906 209.5h1v5.5h-1zM907 209.5h1v4.7h-1zM908 209.5h1v4.5h-1zM911 209.5h1v3.7h-1zM912 209.5h1v4.2h-1zM917 209.5h1v5.4h-1zM918 209.5h1v3.8h-1zM919 209.5h1v3.6h-1zM920 209.5h1v4.1h-1zM921 209.5h1v3.7h-1zM922 209.5h1v3.6h-1zM927 209.5h1v3.7h-1zM928 209.5h1v4.8h-1zM939 209.5h1v4.7h-1zM941 209.5h1v4.3h-1zM942 209.5h1v4.5h-1zM951 209.5h1v3.9h-1zM952 209.5h1v4.4h-1zM955 209.5h1v4.3h-1zM961 209.5h1v3.7h-1zM963 209.5h1v4.9h-1zM969 209.5h1v5.4h-1zM970 209.5h1v4.8h-1zM973 209.5h1v5.1h-1zM974 209.5h1v4.2h-1zM975 209.5h1v3.9h-1z" fill="#f0f0fc"/>
</g>
<path d="M134 157.1h1v1h-1zM137 158.2h1v1h-1zM144 158.2h1v1h-1zM153 158.1h1v1h-1zM161 156.3h1v1h-1zM163 158.6h1v1h-1zM164 157.1h1v1h-1zM173 156.4h1v1h-1zM181 157.6h1v1h-1zM191 158.6h1v1h-1zM194 157.5h1v1h-1zM198 158.4h1v1h-1zM202 158.3h1v1h-1zM205 157.1h1v1h-1zM212 158.0h1v1h-1zM218 158.3h1v1h-1zM219 156.8h1v1h-1zM235 158.4h1v1h-1zM237 158.1h1v1h-1zM248 158.6h1v1h-1zM266 157.8h1v1h-1zM274 158.0h1v1h-1zM281 157.8h1v1h-1zM292 158.1h1v1h-1zM310 157.5h1v1h-1zM316 157.4h1v1h-1zM317 157.3h1v1h-1zM326 157.4h1v1h-1zM327 158.0h1v1h-1zM333 157.8h1v1h-1zM334 158.3h1v1h-1zM337 158.2h1v1h-1zM338 158.1h1v1h-1zM347 157.0h1v1h-1zM349 156.9h1v1h-1zM353 157.7h1v1h-1zM356 157.1h1v1h-1zM357 158.3h1v1h-1zM358 157.7h1v1h-1zM367 156.5h1v1h-1zM379 156.4h1v1h-1zM384 156.7h1v1h-1zM385 158.0h1v1h-1zM393 158.2h1v1h-1zM399 158.0h1v1h-1zM408 158.4h1v1h-1zM412 156.1h1v1h-1zM417 157.9h1v1h-1zM422 157.8h1v1h-1zM428 157.8h1v1h-1zM434 158.1h1v1h-1zM444 158.6h1v1h-1zM460 158.4h1v1h-1zM469 158.0h1v1h-1zM480 156.3h1v1h-1zM481 158.0h1v1h-1zM490 157.9h1v1h-1zM496 157.7h1v1h-1zM497 157.2h1v1h-1zM502 157.0h1v1h-1zM506 157.6h1v1h-1zM512 158.0h1v1h-1zM520 157.7h1v1h-1zM524 158.1h1v1h-1zM527 157.6h1v1h-1zM528 156.3h1v1h-1zM534 157.8h1v1h-1zM538 158.4h1v1h-1zM546 156.8h1v1h-1zM548 156.3h1v1h-1zM559 156.8h1v1h-1zM560 158.5h1v1h-1zM569 158.6h1v1h-1zM576 157.4h1v1h-1zM577 158.8h1v1h-1zM578 158.3h1v1h-1zM582 158.1h1v1h-1zM583 156.1h1v1h-1zM584 156.1h1v1h-1zM587 156.9h1v1h-1zM593 157.2h1v1h-1zM596 157.9h1v1h-1zM605 157.8h1v1h-1zM606 157.0h1v1h-1zM625 158.5h1v1h-1zM629 156.4h1v1h-1zM630 158.2h1v1h-1zM631 157.5h1v1h-1zM640 156.6h1v1h-1zM644 156.9h1v1h-1zM646 157.7h1v1h-1zM647 156.8h1v1h-1zM657 157.0h1v1h-1zM660 158.1h1v1h-1zM662 156.9h1v1h-1zM667 157.2h1v1h-1zM670 158.1h1v1h-1zM676 158.1h1v1h-1zM683 157.5h1v1h-1zM686 157.1h1v1h-1zM702 158.4h1v1h-1zM718 158.4h1v1h-1zM727 157.7h1v1h-1zM728 158.0h1v1h-1zM734 158.5h1v1h-1zM735 156.4h1v1h-1zM736 156.4h1v1h-1zM743 158.5h1v1h-1zM744 158.5h1v1h-1zM758 157.0h1v1h-1zM759 157.2h1v1h-1zM761 157.9h1v1h-1zM763 158.5h1v1h-1zM765 158.5h1v1h-1zM771 158.3h1v1h-1zM773 156.7h1v1h-1zM775 158.4h1v1h-1zM778 156.6h1v1h-1zM780 158.3h1v1h-1zM794 157.3h1v1h-1zM800 158.5h1v1h-1zM801 156.9h1v1h-1zM802 157.1h1v1h-1zM811 158.3h1v1h-1zM828 158.8h1v1h-1zM830 156.4h1v1h-1zM835 158.0h1v1h-1zM849 156.6h1v1h-1zM855 158.8h1v1h-1zM861 156.5h1v1h-1zM865 157.0h1v1h-1zM866 157.2h1v1h-1zM876 157.7h1v1h-1zM877 156.4h1v1h-1zM884 158.5h1v1h-1zM895 156.2h1v1h-1zM896 158.0h1v1h-1zM904 158.6h1v1h-1zM905 157.4h1v1h-1zM921 158.8h1v1h-1zM922 158.8h1v1h-1zM925 157.2h1v1h-1zM926 156.2h1v1h-1zM927 157.4h1v1h-1zM933 156.2h1v1h-1zM942 156.8h1v1h-1zM944 156.4h1v1h-1zM960 156.4h1v1h-1zM962 157.0h1v1h-1zM974 157.5h1v1h-1zM977 156.0h1v1h-1z" fill="#3a3ad0" shape-rendering="crispEdges"/><rect x="136.5" y="157" width="95.5" height="32" fill="#fff" fill-opacity="0.66"/><rect x="133" y="249" width="100" height="21.5" fill="#fff" fill-opacity="0.85"/><path d="M129.3 209.3H978.3M129.3 222.3H978.3" stroke="#050505" stroke-width="1.7" fill="none"/><path d="M172 209.2 L177 203 L182 209.2Z M172 222.2 L177 228.7 L182 222.2Z" fill="#111"/><polyline points="130,225.8 144.1,225.2 152.7,223.1 160.2,221.5 168.8,218.8 176.3,215 183.9,211.8 191.4,209.9 197.8,208.6 205.3,207.3 219.3,206.4 230,206.7 240.8,207.7 248,208.6 259.3,211.5 273.6,213.8 286.1,215 304,216.1 326.9,215.6 353.7,215.6 371.6,216.1 380.6,217.9 389.5,219.7 400.3,221.1 414.6,221.5 428.9,221.1 439.7,218.6 448.6,214.7 456,209.5 464.1,202.3 478.3,191 492.4,176.9 505.4,164 510.9,159 516.3,152.5 521.7,147.1 527.2,142.7 532.6,138.7 538,135.1 543.5,132.1 548.9,129.9 554.3,127.8 559.8,126.2 565.2,125.3 570.7,124.5 576.1,124 581.5,124.2 587,125 592.4,125.9 597.8,126.6 605.4,128.3 610.9,129.3 616.3,130.5 621.7,131.3 627.2,131.8 632.6,132.1 643.5,132.1 652.2,131.8 659.8,131.1 667.4,129.9 676.1,128.6 682.6,127.5 692.4,127.3 710.4,127.5 717.4,128.9 726.1,131.9 734.8,135.9 743.5,141.1 752.2,148 760.9,155.9 769.6,164.6 778.3,172.4 787,179.3 795.7,184.6 800,187.2 815,194.6 827.5,196.2 838.4,195.7 848,193.8 863.6,189.1 879.3,179.7 895,171.9 910.6,167.2 921.5,165.6 927.4,165.6 936.8,167.2 949.3,171.9 961.8,178.2 978,186" fill="none" stroke="#5a2a0a" stroke-width="1.45" stroke-linejoin="round" shape-rendering="crispEdges"/><text transform="translate(140.60,182.60) scale(0.925,1)" text-anchor="start" font-size="20" fill="#141418" stroke="#141418" stroke-width="0.45">+23.71 µV</text><text transform="translate(141.20,265.80) scale(0.955,1)" text-anchor="start" font-size="20" fill="#141418" stroke="#141418" stroke-width="0.45">-23.71 µV</text><path d="M129.3 28.4V405.7M978.3 28.4V405.7M128.3 405.1H979.3" stroke="#3c3c3c" stroke-width="2" fill="none"/><path d="M121.3 62.35H129.3M121.3 103.25H129.3M121.3 144.15H129.3M121.3 185.05H129.3M121.3 248.45H129.3M121.3 289.35H129.3M121.3 330.25H129.3M121.3 371.15H129.3M121.3 216.45H129.3M978.3 28.40H986.8M978.3 75.49H986.8M978.3 122.58H986.8M978.3 169.66H986.8M978.3 216.75H986.8M978.3 263.84H986.8M978.3 310.93H986.8M978.3 358.01H986.8M978.3 405.10H986.8M129.90 405.1V412.1M236.40 405.1V412.1M341.50 405.1V412.1M448.00 405.1V412.1M554.50 405.1V412.1M661.00 405.1V412.1M766.30 405.1V412.1M872.60 405.1V412.1M978.80 405.1V412.1" stroke="#555" stroke-width="1.6" fill="none"/><text transform="translate(117.60,34.20) scale(0.955,1)" text-anchor="end" font-size="15.5" fill="#3c3c3c" stroke="#3c3c3c" stroke-width="0.25">671.4 mV</text><text transform="translate(117.60,68.40) scale(0.95,1)" text-anchor="end" font-size="15.5" fill="#3c3c3c" stroke="#3c3c3c" stroke-width="0.25">100 mV</text><text transform="translate(117.60,109.15) scale(0.945,1)" text-anchor="end" font-size="15.5" fill="#3c3c3c" stroke="#3c3c3c" stroke-width="0.25">10 mV</text><text transform="translate(117.60,150.00) scale(0.95,1)" text-anchor="end" font-size="15.5" fill="#3c3c3c" stroke="#3c3c3c" stroke-width="0.25">1 mV</text><text transform="translate(117.60,210.90) scale(0.953,1)" text-anchor="end" font-size="15.5" fill="#3c3c3c" stroke="#3c3c3c" stroke-width="0.25">16.79 µV</text><text transform="translate(117.60,232.60) scale(0.967,1)" text-anchor="end" font-size="15.5" fill="#3c3c3c" stroke="#3c3c3c" stroke-width="0.25">-16.79 µV</text><text transform="translate(117.60,296.20) scale(0.95,1)" text-anchor="end" font-size="15.5" fill="#3c3c3c" stroke="#3c3c3c" stroke-width="0.25">-1 mV</text><text transform="translate(117.60,336.30) scale(0.95,1)" text-anchor="end" font-size="15.5" fill="#3c3c3c" stroke="#3c3c3c" stroke-width="0.25">-10 mV</text><text transform="translate(117.60,376.40) scale(0.95,1)" text-anchor="end" font-size="15.5" fill="#3c3c3c" stroke="#3c3c3c" stroke-width="0.25">-100 mV</text><text transform="translate(117.60,409.70) scale(0.95,1)" text-anchor="end" font-size="15.5" fill="#3c3c3c" stroke="#3c3c3c" stroke-width="0.25">-671.4 mV</text><text transform="translate(993.80,33.60) scale(0.955,1)" text-anchor="start" font-size="15.5" fill="#3c3c3c" stroke="#3c3c3c" stroke-width="0.25">200 nV</text><text transform="translate(993.80,80.69) scale(0.955,1)" text-anchor="start" font-size="15.5" fill="#3c3c3c" stroke="#3c3c3c" stroke-width="0.25">150 nV</text><text transform="translate(993.80,127.78) scale(0.955,1)" text-anchor="start" font-size="15.5" fill="#3c3c3c" stroke="#3c3c3c" stroke-width="0.25">100 nV</text><text transform="translate(993.80,174.86) scale(0.955,1)" text-anchor="start" font-size="15.5" fill="#3c3c3c" stroke="#3c3c3c" stroke-width="0.25">50 nV</text><text transform="translate(993.80,221.95) scale(0.955,1)" text-anchor="start" font-size="15.5" fill="#3c3c3c" stroke="#3c3c3c" stroke-width="0.25">0 V</text><text transform="translate(993.80,269.04) scale(0.955,1)" text-anchor="start" font-size="15.5" fill="#3c3c3c" stroke="#3c3c3c" stroke-width="0.25">-50 nV</text><text transform="translate(993.80,316.12) scale(0.955,1)" text-anchor="start" font-size="15.5" fill="#3c3c3c" stroke="#3c3c3c" stroke-width="0.25">-100 nV</text><text transform="translate(993.80,363.21) scale(0.955,1)" text-anchor="start" font-size="15.5" fill="#3c3c3c" stroke="#3c3c3c" stroke-width="0.25">-150 nV</text><text transform="translate(993.80,410.30) scale(0.955,1)" text-anchor="start" font-size="15.5" fill="#3c3c3c" stroke="#3c3c3c" stroke-width="0.25">-200 nV</text><text transform="translate(128.90,436.2) scale(0.93,1)" text-anchor="middle" font-size="15.5" fill="#3c3c3c" stroke="#3c3c3c" stroke-width="0.25">0 <tspan font-size="12" fill="#999" stroke="none" dy="-2.5">°</tspan></text><text transform="translate(235.40,436.2) scale(0.93,1)" text-anchor="middle" font-size="15.5" fill="#3c3c3c" stroke="#3c3c3c" stroke-width="0.25">45 <tspan font-size="12" fill="#999" stroke="none" dy="-2.5">°</tspan></text><text transform="translate(340.50,436.2) scale(0.93,1)" text-anchor="middle" font-size="15.5" fill="#3c3c3c" stroke="#3c3c3c" stroke-width="0.25">90 <tspan font-size="12" fill="#999" stroke="none" dy="-2.5">°</tspan></text><text transform="translate(447.00,436.2) scale(0.93,1)" text-anchor="middle" font-size="15.5" fill="#3c3c3c" stroke="#3c3c3c" stroke-width="0.25">135 <tspan font-size="12" fill="#999" stroke="none" dy="-2.5">°</tspan></text><text transform="translate(553.50,436.2) scale(0.93,1)" text-anchor="middle" font-size="15.5" fill="#3c3c3c" stroke="#3c3c3c" stroke-width="0.25">180 <tspan font-size="12" fill="#999" stroke="none" dy="-2.5">°</tspan></text><text transform="translate(660.00,436.2) scale(0.93,1)" text-anchor="middle" font-size="15.5" fill="#3c3c3c" stroke="#3c3c3c" stroke-width="0.25">225 <tspan font-size="12" fill="#999" stroke="none" dy="-2.5">°</tspan></text><text transform="translate(765.30,436.2) scale(0.93,1)" text-anchor="middle" font-size="15.5" fill="#3c3c3c" stroke="#3c3c3c" stroke-width="0.25">270 <tspan font-size="12" fill="#999" stroke="none" dy="-2.5">°</tspan></text><text transform="translate(871.60,436.2) scale(0.93,1)" text-anchor="middle" font-size="15.5" fill="#3c3c3c" stroke="#3c3c3c" stroke-width="0.25">315 <tspan font-size="12" fill="#999" stroke="none" dy="-2.5">°</tspan></text><text transform="translate(977.80,436.2) scale(0.93,1)" text-anchor="middle" font-size="15.5" fill="#3c3c3c" stroke="#3c3c3c" stroke-width="0.25">360 <tspan font-size="12" fill="#999" stroke="none" dy="-2.5">°</tspan></text></g></svg></body></html>
